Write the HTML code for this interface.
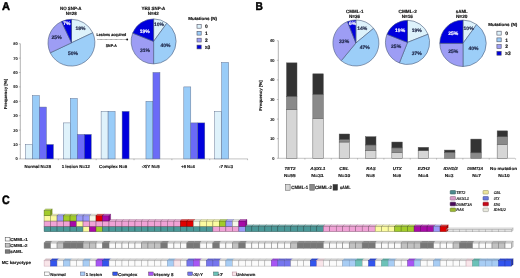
<!DOCTYPE html><html><head><meta charset="utf-8"><style>html,body{margin:0;padding:0;background:#fff;overflow:hidden}svg{display:block;will-change:transform}text{text-rendering:geometricPrecision}</style></head><body><svg width="520" height="278" viewBox="0 0 520 278" style="font-family:&quot;Liberation Sans&quot;, sans-serif">
<rect width="520" height="278" fill="#fff"/>
<text x="2.0" y="10.0" font-size="11.2" font-weight="bold" text-anchor="start" fill="#000" textLength="8.0" lengthAdjust="spacingAndGlyphs" stroke="#000" stroke-width="0.45" >A</text>
<text x="255.6" y="10.3" font-size="11.3" font-weight="bold" text-anchor="start" fill="#000" textLength="7.4" lengthAdjust="spacingAndGlyphs" stroke="#000" stroke-width="0.45" >B</text>
<text x="2.0" y="204.3" font-size="12.2" font-weight="bold" text-anchor="start" fill="#000" textLength="7.7" lengthAdjust="spacingAndGlyphs" stroke="#000" stroke-width="0.45" >C</text>
<text x="59.95" y="10.1" font-size="4.7" font-weight="bold" text-anchor="start" fill="#111" textLength="21.6" lengthAdjust="spacingAndGlyphs" stroke="#111" stroke-width="0.16" >NO SNP-A</text>
<text x="65.75" y="15.4" font-size="4.7" font-weight="bold" text-anchor="start" fill="#111" textLength="11.0" lengthAdjust="spacingAndGlyphs" stroke="#111" stroke-width="0.16" >N=28</text>
<path d="M71.5,42.8 L71.50,19.30 A23.5,23.5 0 0 1 92.76,32.79 Z" fill="#ddf2fb" stroke="#4a5a7a" stroke-width="0.6" stroke-linejoin="round"/>
<path d="M71.5,42.8 L92.76,32.79 A23.5,23.5 0 0 1 50.24,52.81 Z" fill="#9ccef8" stroke="#4a5a7a" stroke-width="0.6" stroke-linejoin="round"/>
<path d="M71.5,42.8 L50.24,52.81 A23.5,23.5 0 0 1 61.49,21.54 Z" fill="#9d9df4" stroke="#4a5a7a" stroke-width="0.6" stroke-linejoin="round"/>
<path d="M71.5,42.8 L61.49,21.54 A23.5,23.5 0 0 1 71.50,19.30 Z" fill="#0000dd" stroke="#4a5a7a" stroke-width="0.6" stroke-linejoin="round"/>
<text x="80.4" y="30" font-size="5.0" font-weight="bold" text-anchor="middle" fill="#1a2244" stroke="#1a2244" stroke-width="0.16" >18%</text>
<text x="66.9" y="24.8" font-size="5.0" font-weight="bold" text-anchor="middle" fill="#fff" stroke="#fff" stroke-width="0.16" >7%</text>
<text x="56.6" y="39.2" font-size="5.0" font-weight="bold" text-anchor="middle" fill="#1a2244" stroke="#1a2244" stroke-width="0.16" >25%</text>
<text x="73" y="54.6" font-size="5.0" font-weight="bold" text-anchor="middle" fill="#1a2244" stroke="#1a2244" stroke-width="0.16" >50%</text>
<text x="141.45" y="10.1" font-size="4.7" font-weight="bold" text-anchor="start" fill="#111" textLength="23.9" lengthAdjust="spacingAndGlyphs" stroke="#111" stroke-width="0.16" >YES SNP-A</text>
<text x="147.75" y="15.4" font-size="4.7" font-weight="bold" text-anchor="start" fill="#111" textLength="10.9" lengthAdjust="spacingAndGlyphs" stroke="#111" stroke-width="0.16" >N=42</text>
<path d="M153.6,41.4 L153.60,18.90 A22.5,22.5 0 0 1 166.83,23.20 Z" fill="#ddf2fb" stroke="#4a5a7a" stroke-width="0.6" stroke-linejoin="round"/>
<path d="M153.6,41.4 L166.83,23.20 A22.5,22.5 0 0 1 153.60,63.90 Z" fill="#9ccef8" stroke="#4a5a7a" stroke-width="0.6" stroke-linejoin="round"/>
<path d="M153.6,41.4 L153.60,63.90 A22.5,22.5 0 0 1 132.68,33.12 Z" fill="#9d9df4" stroke="#4a5a7a" stroke-width="0.6" stroke-linejoin="round"/>
<path d="M153.6,41.4 L132.68,33.12 A22.5,22.5 0 0 1 153.60,18.90 Z" fill="#0000dd" stroke="#4a5a7a" stroke-width="0.6" stroke-linejoin="round"/>
<text x="158.9" y="26.1" font-size="5.0" font-weight="bold" text-anchor="middle" fill="#1a2244" stroke="#1a2244" stroke-width="0.16" >10%</text>
<text x="144.7" y="32.6" font-size="5.0" font-weight="bold" text-anchor="middle" fill="#fff" stroke="#fff" stroke-width="0.16" >19%</text>
<text x="165.5" y="47.2" font-size="5.0" font-weight="bold" text-anchor="middle" fill="#1a2244" stroke="#1a2244" stroke-width="0.16" >40%</text>
<text x="144.9" y="52.1" font-size="5.0" font-weight="bold" text-anchor="middle" fill="#1a2244" stroke="#1a2244" stroke-width="0.16" >31%</text>
<text x="96.45" y="36.0" font-size="4.0" font-weight="bold" text-anchor="start" fill="#111" textLength="29.8" lengthAdjust="spacingAndGlyphs" stroke="#111" stroke-width="0.16" >Lesions acquired</text>
<line x1="97.4" y1="39.5" x2="126.8" y2="39.5" stroke="#444" stroke-width="0.55" stroke-dasharray="0.9,0.35"/>
<circle cx="127.2" cy="39.5" r="0.95" fill="#111"/>
<text x="105.75" y="47.0" font-size="4.0" font-weight="bold" text-anchor="start" fill="#111" textLength="11.0" lengthAdjust="spacingAndGlyphs" stroke="#111" stroke-width="0.16" >SNP-A</text>
<text x="188.15" y="19.6" font-size="4.3" font-weight="bold" text-anchor="start" fill="#111" textLength="29.0" lengthAdjust="spacingAndGlyphs" stroke="#111" stroke-width="0.16" >Mutations (N)</text>
<rect x="197.0" y="24.4" width="4.2" height="3.8" fill="#ddf2fb" stroke="#556" stroke-width="0.6"/>
<text x="204.9" y="28.0" font-size="4.9" font-weight="bold" text-anchor="start" fill="#111" stroke="#111" stroke-width="0.16" >0</text>
<rect x="197.0" y="31.299999999999997" width="4.2" height="3.8" fill="#9ccef8" stroke="#556" stroke-width="0.6"/>
<text x="204.9" y="34.9" font-size="4.9" font-weight="bold" text-anchor="start" fill="#111" stroke="#111" stroke-width="0.16" >1</text>
<rect x="197.0" y="38.2" width="4.2" height="3.8" fill="#9d9df4" stroke="#556" stroke-width="0.6"/>
<text x="204.9" y="41.800000000000004" font-size="4.9" font-weight="bold" text-anchor="start" fill="#111" stroke="#111" stroke-width="0.16" >2</text>
<rect x="197.0" y="45.1" width="4.2" height="3.8" fill="#0000dd" stroke="#556" stroke-width="0.6"/>
<text x="204.9" y="48.7" font-size="4.9" font-weight="bold" text-anchor="start" fill="#111" stroke="#111" stroke-width="0.16" >&#8805;3</text>
<line x1="20.3" y1="43.70000000000002" x2="20.3" y2="158.9" stroke="#666" stroke-width="0.5"/>
<line x1="20.3" y1="158.9" x2="247.8" y2="158.9" stroke="#888" stroke-width="0.5"/>
<line x1="18.9" y1="158.90" x2="20.3" y2="158.90" stroke="#666" stroke-width="0.4"/>
<text x="17.8" y="160.3" font-size="4.0" font-weight="bold" text-anchor="end" fill="#222" stroke="#222" stroke-width="0.08" >0</text>
<line x1="18.9" y1="144.50" x2="20.3" y2="144.50" stroke="#666" stroke-width="0.4"/>
<text x="17.8" y="145.9" font-size="4.0" font-weight="bold" text-anchor="end" fill="#222" stroke="#222" stroke-width="0.08" >10</text>
<line x1="18.9" y1="130.10" x2="20.3" y2="130.10" stroke="#666" stroke-width="0.4"/>
<text x="17.8" y="131.50000000000003" font-size="4.0" font-weight="bold" text-anchor="end" fill="#222" stroke="#222" stroke-width="0.08" >20</text>
<line x1="18.9" y1="115.70" x2="20.3" y2="115.70" stroke="#666" stroke-width="0.4"/>
<text x="17.8" y="117.10000000000002" font-size="4.0" font-weight="bold" text-anchor="end" fill="#222" stroke="#222" stroke-width="0.08" >30</text>
<line x1="18.9" y1="101.30" x2="20.3" y2="101.30" stroke="#666" stroke-width="0.4"/>
<text x="17.8" y="102.70000000000002" font-size="4.0" font-weight="bold" text-anchor="end" fill="#222" stroke="#222" stroke-width="0.08" >40</text>
<line x1="18.9" y1="86.90" x2="20.3" y2="86.90" stroke="#666" stroke-width="0.4"/>
<text x="17.8" y="88.30000000000001" font-size="4.0" font-weight="bold" text-anchor="end" fill="#222" stroke="#222" stroke-width="0.08" >50</text>
<line x1="18.9" y1="72.50" x2="20.3" y2="72.50" stroke="#666" stroke-width="0.4"/>
<text x="17.8" y="73.90000000000002" font-size="4.0" font-weight="bold" text-anchor="end" fill="#222" stroke="#222" stroke-width="0.08" >60</text>
<line x1="18.9" y1="58.10" x2="20.3" y2="58.10" stroke="#666" stroke-width="0.4"/>
<text x="17.8" y="59.50000000000001" font-size="4.0" font-weight="bold" text-anchor="end" fill="#222" stroke="#222" stroke-width="0.08" >70</text>
<line x1="18.9" y1="43.70" x2="20.3" y2="43.70" stroke="#666" stroke-width="0.4"/>
<text x="17.8" y="45.100000000000016" font-size="4.0" font-weight="bold" text-anchor="end" fill="#222" stroke="#222" stroke-width="0.08" >80</text>
<line x1="58.33" y1="158.9" x2="58.33" y2="160.20000000000002" stroke="#777" stroke-width="0.45"/>
<line x1="96.18" y1="158.9" x2="96.18" y2="160.20000000000002" stroke="#777" stroke-width="0.45"/>
<line x1="134.03" y1="158.9" x2="134.03" y2="160.20000000000002" stroke="#777" stroke-width="0.45"/>
<line x1="171.88" y1="158.9" x2="171.88" y2="160.20000000000002" stroke="#777" stroke-width="0.45"/>
<line x1="209.73" y1="158.9" x2="209.73" y2="160.20000000000002" stroke="#777" stroke-width="0.45"/>
<line x1="247.57" y1="158.9" x2="247.57" y2="160.20000000000002" stroke="#777" stroke-width="0.45"/>
<text transform="translate(7.0,94.0) rotate(-90)" font-size="4.2" font-weight="bold" text-anchor="middle" fill="#222" stroke="#222" stroke-width="0.15" textLength="30.5" lengthAdjust="spacingAndGlyphs">Frequency [%]</text>
<rect x="25.40" y="144.50" width="7.0" height="14.40" fill="#dff2fb" stroke="#5a6a8a" stroke-width="0.45"/>
<rect x="32.40" y="95.54" width="7.0" height="63.36" fill="#99ccf8" stroke="#5a6a8a" stroke-width="0.45"/>
<rect x="39.40" y="107.06" width="7.0" height="51.84" fill="#6b6bf7" stroke="#5a6a8a" stroke-width="0.45"/>
<rect x="46.40" y="144.50" width="7.0" height="14.40" fill="#0000dd" stroke="#5a6a8a" stroke-width="0.45"/>
<text x="24.55" y="167.9" font-size="4.3" font-weight="bold" text-anchor="start" fill="#222" textLength="26.5" lengthAdjust="spacingAndGlyphs" stroke="#222" stroke-width="0.16" >Normal N=28</text>
<rect x="63.25" y="122.90" width="7.0" height="36.00" fill="#dff2fb" stroke="#5a6a8a" stroke-width="0.45"/>
<rect x="70.25" y="98.42" width="7.0" height="60.48" fill="#99ccf8" stroke="#5a6a8a" stroke-width="0.45"/>
<rect x="77.25" y="134.42" width="7.0" height="24.48" fill="#6b6bf7" stroke="#5a6a8a" stroke-width="0.45"/>
<rect x="84.25" y="134.42" width="7.0" height="24.48" fill="#0000dd" stroke="#5a6a8a" stroke-width="0.45"/>
<text x="61.65" y="167.9" font-size="4.3" font-weight="bold" text-anchor="start" fill="#222" textLength="28.2" lengthAdjust="spacingAndGlyphs" stroke="#222" stroke-width="0.16" >1 lesion N=12</text>
<rect x="101.10" y="111.38" width="7.0" height="47.52" fill="#dff2fb" stroke="#5a6a8a" stroke-width="0.45"/>
<rect x="108.10" y="111.38" width="7.0" height="47.52" fill="#99ccf8" stroke="#5a6a8a" stroke-width="0.45"/>
<rect x="122.10" y="111.38" width="7.0" height="47.52" fill="#0000dd" stroke="#5a6a8a" stroke-width="0.45"/>
<text x="99.05" y="167.9" font-size="4.3" font-weight="bold" text-anchor="start" fill="#222" textLength="28.2" lengthAdjust="spacingAndGlyphs" stroke="#222" stroke-width="0.16" >Complex N=6</text>
<rect x="145.95" y="101.30" width="7.0" height="57.60" fill="#99ccf8" stroke="#5a6a8a" stroke-width="0.45"/>
<rect x="152.95" y="72.50" width="7.0" height="86.40" fill="#6b6bf7" stroke="#5a6a8a" stroke-width="0.45"/>
<text x="141.65" y="167.9" font-size="4.3" font-weight="bold" text-anchor="start" fill="#222" textLength="18.2" lengthAdjust="spacingAndGlyphs" stroke="#222" stroke-width="0.16" >-X/Y N=5</text>
<rect x="183.80" y="86.90" width="7.0" height="72.00" fill="#99ccf8" stroke="#5a6a8a" stroke-width="0.45"/>
<rect x="190.80" y="122.90" width="7.0" height="36.00" fill="#6b6bf7" stroke="#5a6a8a" stroke-width="0.45"/>
<rect x="197.80" y="122.90" width="7.0" height="36.00" fill="#0000dd" stroke="#5a6a8a" stroke-width="0.45"/>
<text x="181.25" y="167.9" font-size="4.3" font-weight="bold" text-anchor="start" fill="#222" textLength="13.6" lengthAdjust="spacingAndGlyphs" stroke="#222" stroke-width="0.16" >+8 N=4</text>
<rect x="214.65" y="111.38" width="7.0" height="47.52" fill="#dff2fb" stroke="#5a6a8a" stroke-width="0.45"/>
<rect x="221.65" y="62.42" width="7.0" height="96.48" fill="#99ccf8" stroke="#5a6a8a" stroke-width="0.45"/>
<text x="218.95" y="167.9" font-size="4.3" font-weight="bold" text-anchor="start" fill="#222" textLength="14.1" lengthAdjust="spacingAndGlyphs" stroke="#222" stroke-width="0.16" >-7 N=3</text>
<text x="346.05" y="12.6" font-size="4.7" font-weight="bold" text-anchor="start" fill="#111" textLength="17.4" lengthAdjust="spacingAndGlyphs" stroke="#111" stroke-width="0.16" >CMML-1</text>
<text x="349.05" y="17.5" font-size="4.7" font-weight="bold" text-anchor="start" fill="#111" textLength="11.0" lengthAdjust="spacingAndGlyphs" stroke="#111" stroke-width="0.16" >N=36</text>
<path d="M355.9,43.0 L355.90,20.00 A23.0,23.0 0 0 1 373.62,28.34 Z" fill="#ddf2fb" stroke="#4a5a7a" stroke-width="0.6" stroke-linejoin="round"/>
<path d="M355.9,43.0 L373.62,28.34 A23.0,23.0 0 0 1 341.24,60.72 Z" fill="#9ccef8" stroke="#4a5a7a" stroke-width="0.6" stroke-linejoin="round"/>
<path d="M355.9,43.0 L341.24,60.72 A23.0,23.0 0 0 1 347.43,21.62 Z" fill="#9d9df4" stroke="#4a5a7a" stroke-width="0.6" stroke-linejoin="round"/>
<path d="M355.9,43.0 L347.43,21.62 A23.0,23.0 0 0 1 355.90,20.00 Z" fill="#0000dd" stroke="#4a5a7a" stroke-width="0.6" stroke-linejoin="round"/>
<text x="362.2" y="29.6" font-size="5.0" font-weight="bold" text-anchor="middle" fill="#1a2244" stroke="#1a2244" stroke-width="0.16" >14%</text>
<text x="364.8" y="49.4" font-size="5.0" font-weight="bold" text-anchor="middle" fill="#1a2244" stroke="#1a2244" stroke-width="0.16" >47%</text>
<text x="344.1" y="43.4" font-size="5.0" font-weight="bold" text-anchor="middle" fill="#1a2244" stroke="#1a2244" stroke-width="0.16" >33%</text>
<text x="352.7" y="25.2" font-size="5.0" font-weight="bold" text-anchor="middle" fill="#fff" stroke="#fff" stroke-width="0.16" >6%</text>
<text x="398.55" y="12.6" font-size="4.7" font-weight="bold" text-anchor="start" fill="#111" textLength="18.2" lengthAdjust="spacingAndGlyphs" stroke="#111" stroke-width="0.16" >CMML-2</text>
<text x="401.65" y="17.5" font-size="4.7" font-weight="bold" text-anchor="start" fill="#111" textLength="11.3" lengthAdjust="spacingAndGlyphs" stroke="#111" stroke-width="0.16" >N=16</text>
<path d="M407.5,42.4 L407.50,20.30 A22.1,22.1 0 0 1 428.05,34.26 Z" fill="#ddf2fb" stroke="#4a5a7a" stroke-width="0.6" stroke-linejoin="round"/>
<path d="M407.5,42.4 L428.05,34.26 A22.1,22.1 0 0 1 399.36,62.95 Z" fill="#9ccef8" stroke="#4a5a7a" stroke-width="0.6" stroke-linejoin="round"/>
<path d="M407.5,42.4 L399.36,62.95 A22.1,22.1 0 0 1 386.95,34.26 Z" fill="#9d9df4" stroke="#4a5a7a" stroke-width="0.6" stroke-linejoin="round"/>
<path d="M407.5,42.4 L386.95,34.26 A22.1,22.1 0 0 1 407.50,20.30 Z" fill="#0000dd" stroke="#4a5a7a" stroke-width="0.6" stroke-linejoin="round"/>
<text x="416.8" y="32.1" font-size="5.0" font-weight="bold" text-anchor="middle" fill="#1a2244" stroke="#1a2244" stroke-width="0.16" >19%</text>
<text x="416.8" y="54.7" font-size="5.0" font-weight="bold" text-anchor="middle" fill="#1a2244" stroke="#1a2244" stroke-width="0.16" >37%</text>
<text x="396.1" y="47.8" font-size="5.0" font-weight="bold" text-anchor="middle" fill="#1a2244" stroke="#1a2244" stroke-width="0.16" >25%</text>
<text x="400.1" y="32.1" font-size="5.0" font-weight="bold" text-anchor="middle" fill="#fff" stroke="#fff" stroke-width="0.16" >19%</text>
<text x="455.75" y="12.6" font-size="4.7" font-weight="bold" text-anchor="start" fill="#111" textLength="12.0" lengthAdjust="spacingAndGlyphs" stroke="#111" stroke-width="0.16" >sAML</text>
<text x="455.95" y="17.5" font-size="4.7" font-weight="bold" text-anchor="start" fill="#111" textLength="11.5" lengthAdjust="spacingAndGlyphs" stroke="#111" stroke-width="0.16" >N=20</text>
<path d="M463.0,43.3 L463.00,20.10 A23.2,23.2 0 0 1 476.64,24.53 Z" fill="#ddf2fb" stroke="#4a5a7a" stroke-width="0.6" stroke-linejoin="round"/>
<path d="M463.0,43.3 L476.64,24.53 A23.2,23.2 0 0 1 463.00,66.50 Z" fill="#9ccef8" stroke="#4a5a7a" stroke-width="0.6" stroke-linejoin="round"/>
<path d="M463.0,43.3 L463.00,66.50 A23.2,23.2 0 0 1 439.80,43.30 Z" fill="#9d9df4" stroke="#4a5a7a" stroke-width="0.6" stroke-linejoin="round"/>
<path d="M463.0,43.3 L439.80,43.30 A23.2,23.2 0 0 1 463.00,20.10 Z" fill="#0000dd" stroke="#4a5a7a" stroke-width="0.6" stroke-linejoin="round"/>
<text x="468.6" y="30.4" font-size="5.0" font-weight="bold" text-anchor="middle" fill="#1a2244" stroke="#1a2244" stroke-width="0.16" >10%</text>
<text x="473.4" y="50.4" font-size="5.0" font-weight="bold" text-anchor="middle" fill="#1a2244" stroke="#1a2244" stroke-width="0.16" >40%</text>
<text x="453.3" y="52.6" font-size="5.0" font-weight="bold" text-anchor="middle" fill="#1a2244" stroke="#1a2244" stroke-width="0.16" >25%</text>
<text x="453.3" y="34.6" font-size="5.0" font-weight="bold" text-anchor="middle" fill="#fff" stroke="#fff" stroke-width="0.16" >25%</text>
<text x="488.35" y="26.4" font-size="4.3" font-weight="bold" text-anchor="start" fill="#111" textLength="28.8" lengthAdjust="spacingAndGlyphs" stroke="#111" stroke-width="0.16" >Mutations (N)</text>
<rect x="496.9" y="31.2" width="4.3" height="3.9" fill="#ddf2fb" stroke="#556" stroke-width="0.6"/>
<text x="505.3" y="34.8" font-size="4.9" font-weight="bold" text-anchor="start" fill="#111" stroke="#111" stroke-width="0.16" >0</text>
<rect x="496.9" y="37.9" width="4.3" height="3.9" fill="#9ccef8" stroke="#556" stroke-width="0.6"/>
<text x="505.3" y="41.5" font-size="4.9" font-weight="bold" text-anchor="start" fill="#111" stroke="#111" stroke-width="0.16" >1</text>
<rect x="496.9" y="44.6" width="4.3" height="3.9" fill="#9d9df4" stroke="#556" stroke-width="0.6"/>
<text x="505.3" y="48.2" font-size="4.9" font-weight="bold" text-anchor="start" fill="#111" stroke="#111" stroke-width="0.16" >2</text>
<rect x="496.9" y="51.3" width="4.3" height="3.9" fill="#0000dd" stroke="#556" stroke-width="0.6"/>
<text x="505.3" y="54.9" font-size="4.9" font-weight="bold" text-anchor="start" fill="#111" stroke="#111" stroke-width="0.16" >&#8805;3</text>
<line x1="278.3" y1="40.70000000000002" x2="278.3" y2="158.3" stroke="#666" stroke-width="0.5"/>
<line x1="278.3" y1="158.3" x2="515" y2="158.3" stroke="#888" stroke-width="0.5"/>
<line x1="276.9" y1="158.30" x2="278.3" y2="158.30" stroke="#666" stroke-width="0.4"/>
<text x="274.6" y="159.70000000000002" font-size="4.0" font-weight="bold" text-anchor="end" fill="#222" stroke="#222" stroke-width="0.08" >0</text>
<line x1="276.9" y1="138.70" x2="278.3" y2="138.70" stroke="#666" stroke-width="0.4"/>
<text x="274.6" y="140.10000000000002" font-size="4.0" font-weight="bold" text-anchor="end" fill="#222" stroke="#222" stroke-width="0.08" >10</text>
<line x1="276.9" y1="119.10" x2="278.3" y2="119.10" stroke="#666" stroke-width="0.4"/>
<text x="274.6" y="120.50000000000001" font-size="4.0" font-weight="bold" text-anchor="end" fill="#222" stroke="#222" stroke-width="0.08" >20</text>
<line x1="276.9" y1="99.50" x2="278.3" y2="99.50" stroke="#666" stroke-width="0.4"/>
<text x="274.6" y="100.90000000000002" font-size="4.0" font-weight="bold" text-anchor="end" fill="#222" stroke="#222" stroke-width="0.08" >30</text>
<line x1="276.9" y1="79.90" x2="278.3" y2="79.90" stroke="#666" stroke-width="0.4"/>
<text x="274.6" y="81.30000000000001" font-size="4.0" font-weight="bold" text-anchor="end" fill="#222" stroke="#222" stroke-width="0.08" >40</text>
<line x1="276.9" y1="60.30" x2="278.3" y2="60.30" stroke="#666" stroke-width="0.4"/>
<text x="274.6" y="61.70000000000001" font-size="4.0" font-weight="bold" text-anchor="end" fill="#222" stroke="#222" stroke-width="0.08" >50</text>
<line x1="276.9" y1="40.70" x2="278.3" y2="40.70" stroke="#666" stroke-width="0.4"/>
<text x="274.6" y="42.100000000000016" font-size="4.0" font-weight="bold" text-anchor="end" fill="#222" stroke="#222" stroke-width="0.08" >60</text>
<line x1="304.92" y1="158.3" x2="304.92" y2="159.60000000000002" stroke="#777" stroke-width="0.45"/>
<line x1="331.25" y1="158.3" x2="331.25" y2="159.60000000000002" stroke="#777" stroke-width="0.45"/>
<line x1="357.58" y1="158.3" x2="357.58" y2="159.60000000000002" stroke="#777" stroke-width="0.45"/>
<line x1="383.91" y1="158.3" x2="383.91" y2="159.60000000000002" stroke="#777" stroke-width="0.45"/>
<line x1="410.24" y1="158.3" x2="410.24" y2="159.60000000000002" stroke="#777" stroke-width="0.45"/>
<line x1="436.56" y1="158.3" x2="436.56" y2="159.60000000000002" stroke="#777" stroke-width="0.45"/>
<line x1="462.89" y1="158.3" x2="462.89" y2="159.60000000000002" stroke="#777" stroke-width="0.45"/>
<line x1="489.23" y1="158.3" x2="489.23" y2="159.60000000000002" stroke="#777" stroke-width="0.45"/>
<line x1="515.56" y1="158.3" x2="515.56" y2="159.60000000000002" stroke="#777" stroke-width="0.45"/>
<text transform="translate(262.0,95.5) rotate(-90)" font-size="4.2" font-weight="bold" text-anchor="middle" fill="#222" stroke="#222" stroke-width="0.15" textLength="30.5" lengthAdjust="spacingAndGlyphs">Frequency [%]</text>
<rect x="286.50" y="109.69" width="10.5" height="48.61" fill="#d6d6d6" stroke="#555" stroke-width="0.45"/>
<rect x="286.50" y="96.36" width="10.5" height="13.33" fill="#8a8a8a" stroke="#555" stroke-width="0.45"/>
<rect x="286.50" y="62.85" width="10.5" height="33.52" fill="#333333" stroke="#555" stroke-width="0.45"/>
<text x="284.55" y="170.3" font-size="4.3" font-weight="bold" text-anchor="start" fill="#222" font-style="italic" textLength="11.1" lengthAdjust="spacingAndGlyphs" stroke="#222" stroke-width="0.16" >TET2</text>
<text x="284.05" y="176.5" font-size="4.3" font-weight="bold" text-anchor="start" fill="#222" textLength="11.6" lengthAdjust="spacingAndGlyphs" stroke="#222" stroke-width="0.16" >N=55</text>
<rect x="312.83" y="118.32" width="10.5" height="39.98" fill="#d6d6d6" stroke="#555" stroke-width="0.45"/>
<rect x="312.83" y="94.40" width="10.5" height="23.91" fill="#8a8a8a" stroke="#555" stroke-width="0.45"/>
<rect x="312.83" y="73.82" width="10.5" height="20.58" fill="#333333" stroke="#555" stroke-width="0.45"/>
<text x="310.35" y="170.3" font-size="4.3" font-weight="bold" text-anchor="start" fill="#222" font-style="italic" textLength="15.1" lengthAdjust="spacingAndGlyphs" stroke="#222" stroke-width="0.16" >ASXL1</text>
<text x="311.25" y="176.5" font-size="4.3" font-weight="bold" text-anchor="start" fill="#222" textLength="12.5" lengthAdjust="spacingAndGlyphs" stroke="#222" stroke-width="0.16" >N=31</text>
<rect x="339.16" y="142.03" width="10.5" height="16.27" fill="#d6d6d6" stroke="#555" stroke-width="0.45"/>
<rect x="339.16" y="139.48" width="10.5" height="2.55" fill="#8a8a8a" stroke="#555" stroke-width="0.45"/>
<rect x="339.16" y="134.00" width="10.5" height="5.49" fill="#333333" stroke="#555" stroke-width="0.45"/>
<text x="339.25" y="170.3" font-size="4.3" font-weight="bold" text-anchor="start" fill="#222" font-style="italic" textLength="9.5" lengthAdjust="spacingAndGlyphs" stroke="#222" stroke-width="0.16" >CBL</text>
<text x="338.25" y="176.5" font-size="4.3" font-weight="bold" text-anchor="start" fill="#222" textLength="12.0" lengthAdjust="spacingAndGlyphs" stroke="#222" stroke-width="0.16" >N=10</text>
<rect x="365.49" y="150.26" width="10.5" height="8.04" fill="#d6d6d6" stroke="#555" stroke-width="0.45"/>
<rect x="365.49" y="144.97" width="10.5" height="5.29" fill="#8a8a8a" stroke="#555" stroke-width="0.45"/>
<rect x="365.49" y="136.74" width="10.5" height="8.23" fill="#333333" stroke="#555" stroke-width="0.45"/>
<text x="366.35" y="170.3" font-size="4.3" font-weight="bold" text-anchor="start" fill="#222" font-style="italic" textLength="9.3" lengthAdjust="spacingAndGlyphs" stroke="#222" stroke-width="0.16" >RAS</text>
<text x="366.35" y="176.5" font-size="4.3" font-weight="bold" text-anchor="start" fill="#222" textLength="8.5" lengthAdjust="spacingAndGlyphs" stroke="#222" stroke-width="0.16" >N=8</text>
<rect x="391.82" y="152.62" width="10.5" height="5.68" fill="#d6d6d6" stroke="#555" stroke-width="0.45"/>
<rect x="391.82" y="147.91" width="10.5" height="4.70" fill="#8a8a8a" stroke="#555" stroke-width="0.45"/>
<rect x="391.82" y="142.03" width="10.5" height="5.88" fill="#333333" stroke="#555" stroke-width="0.45"/>
<text x="392.75" y="170.3" font-size="4.3" font-weight="bold" text-anchor="start" fill="#222" font-style="italic" textLength="9.0" lengthAdjust="spacingAndGlyphs" stroke="#222" stroke-width="0.16" >UTX</text>
<text x="392.75" y="176.5" font-size="4.3" font-weight="bold" text-anchor="start" fill="#222" textLength="8.3" lengthAdjust="spacingAndGlyphs" stroke="#222" stroke-width="0.16" >N=6</text>
<rect x="418.15" y="150.66" width="10.5" height="7.64" fill="#d6d6d6" stroke="#555" stroke-width="0.45"/>
<rect x="418.15" y="147.32" width="10.5" height="3.33" fill="#333333" stroke="#555" stroke-width="0.45"/>
<text x="417.75" y="170.3" font-size="4.3" font-weight="bold" text-anchor="start" fill="#222" font-style="italic" textLength="12.0" lengthAdjust="spacingAndGlyphs" stroke="#222" stroke-width="0.16" >EZH2</text>
<text x="418.25" y="176.5" font-size="4.3" font-weight="bold" text-anchor="start" fill="#222" textLength="10.0" lengthAdjust="spacingAndGlyphs" stroke="#222" stroke-width="0.16" >N=4</text>
<rect x="444.48" y="152.22" width="10.5" height="6.08" fill="#8a8a8a" stroke="#555" stroke-width="0.45"/>
<rect x="444.48" y="150.07" width="10.5" height="2.16" fill="#333333" stroke="#555" stroke-width="0.45"/>
<text x="443.55" y="170.3" font-size="4.3" font-weight="bold" text-anchor="start" fill="#222" font-style="italic" textLength="14.3" lengthAdjust="spacingAndGlyphs" stroke="#222" stroke-width="0.16" >IDH1/2</text>
<text x="444.65" y="176.5" font-size="4.3" font-weight="bold" text-anchor="start" fill="#222" textLength="8.9" lengthAdjust="spacingAndGlyphs" stroke="#222" stroke-width="0.16" >N=3</text>
<rect x="470.81" y="152.81" width="10.5" height="5.49" fill="#8a8a8a" stroke="#555" stroke-width="0.45"/>
<rect x="470.81" y="139.09" width="10.5" height="13.72" fill="#333333" stroke="#555" stroke-width="0.45"/>
<text x="467.25" y="170.3" font-size="4.3" font-weight="bold" text-anchor="start" fill="#222" font-style="italic" textLength="16.0" lengthAdjust="spacingAndGlyphs" stroke="#222" stroke-width="0.16" >DNMT3A</text>
<text x="472.15" y="176.5" font-size="4.3" font-weight="bold" text-anchor="start" fill="#222" textLength="8.9" lengthAdjust="spacingAndGlyphs" stroke="#222" stroke-width="0.16" >N=7</text>
<rect x="497.14" y="144.58" width="10.5" height="13.72" fill="#d6d6d6" stroke="#555" stroke-width="0.45"/>
<rect x="497.14" y="136.74" width="10.5" height="7.84" fill="#8a8a8a" stroke="#555" stroke-width="0.45"/>
<rect x="497.14" y="130.86" width="10.5" height="5.88" fill="#333333" stroke="#555" stroke-width="0.45"/>
<text x="490.05" y="170.3" font-size="4.3" font-weight="bold" text-anchor="start" fill="#222" textLength="27.0" lengthAdjust="spacingAndGlyphs" stroke="#222" stroke-width="0.16" >No mutation</text>
<text x="498.15" y="176.5" font-size="4.3" font-weight="bold" text-anchor="start" fill="#222" textLength="11.5" lengthAdjust="spacingAndGlyphs" stroke="#222" stroke-width="0.16" >N=10</text>
<rect x="285.5" y="184.4" width="4.6" height="5.8" fill="#d6d6d6" stroke="#444" stroke-width="0.45"/>
<text x="291.35" y="189.4" font-size="4.6" font-weight="bold" text-anchor="start" fill="#222" textLength="16.8" lengthAdjust="spacingAndGlyphs" stroke="#222" stroke-width="0.16" >CMML-1</text>
<rect x="309.8" y="184.4" width="4.6" height="5.8" fill="#8a8a8a" stroke="#444" stroke-width="0.45"/>
<text x="314.95" y="189.4" font-size="4.6" font-weight="bold" text-anchor="start" fill="#222" textLength="17.0" lengthAdjust="spacingAndGlyphs" stroke="#222" stroke-width="0.16" >CMML-2</text>
<rect x="333" y="184.4" width="4.6" height="5.8" fill="#333333" stroke="#444" stroke-width="0.45"/>
<text x="339.95" y="189.4" font-size="4.6" font-weight="bold" text-anchor="start" fill="#222" textLength="10.7" lengthAdjust="spacingAndGlyphs" stroke="#222" stroke-width="0.16" >sAML</text>
<rect x="44.10" y="226.30" width="6.49" height="5.3" fill="#4a9898" stroke="#285353" stroke-width="0.5"/>
<rect x="44.10" y="221.00" width="6.49" height="5.3" fill="#f0a2d6" stroke="#845975" stroke-width="0.5"/>
<rect x="44.10" y="215.70" width="6.49" height="5.3" fill="#fbfba0" stroke="#8a8a58" stroke-width="0.5"/>
<rect x="44.10" y="210.40" width="6.49" height="5.3" fill="#a2cc2a" stroke="#597017" stroke-width="0.5"/>
<path d="M44.10,210.40 L45.70,209.00 L52.19,209.00 L50.59,210.40 Z" fill="#c2dd74" stroke="#617a19" stroke-width="0.4"/>
<rect x="50.59" y="226.30" width="6.49" height="5.3" fill="#4a9898" stroke="#285353" stroke-width="0.5"/>
<rect x="50.59" y="221.00" width="6.49" height="5.3" fill="#f0a2d6" stroke="#845975" stroke-width="0.5"/>
<rect x="50.59" y="215.70" width="6.49" height="5.3" fill="#fbfba0" stroke="#8a8a58" stroke-width="0.5"/>
<path d="M50.59,215.70 L52.19,214.30 L58.68,214.30 L57.08,215.70 Z" fill="#fcfcc1" stroke="#969660" stroke-width="0.4"/>
<rect x="57.08" y="226.30" width="6.49" height="5.3" fill="#4a9898" stroke="#285353" stroke-width="0.5"/>
<rect x="57.08" y="221.00" width="6.49" height="5.3" fill="#f0a2d6" stroke="#845975" stroke-width="0.5"/>
<rect x="57.08" y="215.70" width="6.49" height="5.3" fill="#9a9af8" stroke="#545488" stroke-width="0.5"/>
<path d="M57.08,215.70 L58.68,214.30 L65.18,214.30 L63.58,215.70 Z" fill="#bdbdfa" stroke="#5c5c94" stroke-width="0.4"/>
<rect x="63.58" y="226.30" width="6.49" height="5.3" fill="#4a9898" stroke="#285353" stroke-width="0.5"/>
<rect x="63.58" y="221.00" width="6.49" height="5.3" fill="#f0a2d6" stroke="#845975" stroke-width="0.5"/>
<rect x="63.58" y="215.70" width="6.49" height="5.3" fill="#a2cc2a" stroke="#597017" stroke-width="0.5"/>
<path d="M63.58,215.70 L65.18,214.30 L71.67,214.30 L70.07,215.70 Z" fill="#c2dd74" stroke="#617a19" stroke-width="0.4"/>
<rect x="70.07" y="226.30" width="6.49" height="5.3" fill="#4a9898" stroke="#285353" stroke-width="0.5"/>
<rect x="70.07" y="221.00" width="6.49" height="5.3" fill="#a80aa8" stroke="#5c055c" stroke-width="0.5"/>
<rect x="70.07" y="215.70" width="6.49" height="5.3" fill="#a2cc2a" stroke="#597017" stroke-width="0.5"/>
<path d="M70.07,215.70 L71.67,214.30 L78.16,214.30 L76.56,215.70 Z" fill="#c2dd74" stroke="#617a19" stroke-width="0.4"/>
<rect x="76.56" y="226.30" width="6.49" height="5.3" fill="#4a9898" stroke="#285353" stroke-width="0.5"/>
<rect x="76.56" y="221.00" width="6.49" height="5.3" fill="#fbfba0" stroke="#8a8a58" stroke-width="0.5"/>
<rect x="76.56" y="215.70" width="6.49" height="5.3" fill="#9a9af8" stroke="#545488" stroke-width="0.5"/>
<path d="M76.56,215.70 L78.16,214.30 L84.65,214.30 L83.05,215.70 Z" fill="#bdbdfa" stroke="#5c5c94" stroke-width="0.4"/>
<rect x="83.05" y="226.30" width="6.49" height="5.3" fill="#fbfba0" stroke="#8a8a58" stroke-width="0.5"/>
<rect x="83.05" y="221.00" width="6.49" height="5.3" fill="#f0a2d6" stroke="#845975" stroke-width="0.5"/>
<rect x="83.05" y="215.70" width="6.49" height="5.3" fill="#9a9af8" stroke="#545488" stroke-width="0.5"/>
<path d="M83.05,215.70 L84.65,214.30 L91.14,214.30 L89.54,215.70 Z" fill="#bdbdfa" stroke="#5c5c94" stroke-width="0.4"/>
<rect x="89.54" y="226.30" width="6.49" height="5.3" fill="#a80aa8" stroke="#5c055c" stroke-width="0.5"/>
<rect x="89.54" y="221.00" width="6.49" height="5.3" fill="#f0a2d6" stroke="#845975" stroke-width="0.5"/>
<rect x="89.54" y="215.70" width="6.49" height="5.3" fill="#f4f8e8" stroke="#86887f" stroke-width="0.5"/>
<path d="M89.54,215.70 L91.14,214.30 L97.64,214.30 L96.04,215.70 Z" fill="#f7faf0" stroke="#92948b" stroke-width="0.4"/>
<rect x="96.04" y="226.30" width="6.49" height="5.3" fill="#a2cc2a" stroke="#597017" stroke-width="0.5"/>
<rect x="96.04" y="221.00" width="6.49" height="5.3" fill="#f0a2d6" stroke="#845975" stroke-width="0.5"/>
<rect x="96.04" y="215.70" width="6.49" height="5.3" fill="#e00000" stroke="#7b0000" stroke-width="0.5"/>
<path d="M96.04,215.70 L97.64,214.30 L104.13,214.30 L102.53,215.70 Z" fill="#ea5959" stroke="#860000" stroke-width="0.4"/>
<rect x="102.53" y="226.30" width="6.49" height="5.3" fill="#4a9898" stroke="#285353" stroke-width="0.5"/>
<rect x="102.53" y="221.00" width="6.49" height="5.3" fill="#f0a2d6" stroke="#845975" stroke-width="0.5"/>
<rect x="102.53" y="215.70" width="6.49" height="5.3" fill="#a80aa8" stroke="#5c055c" stroke-width="0.5"/>
<path d="M102.53,215.70 L104.13,214.30 L110.62,214.30 L109.02,215.70 Z" fill="#c65fc6" stroke="#640664" stroke-width="0.4"/>
<rect x="109.02" y="226.30" width="6.49" height="5.3" fill="#4a9898" stroke="#285353" stroke-width="0.5"/>
<rect x="109.02" y="221.00" width="6.49" height="5.3" fill="#f0a2d6" stroke="#845975" stroke-width="0.5"/>
<path d="M109.02,221.00 L110.62,219.60 L117.11,219.60 L115.51,221.00 Z" fill="#f5c2e4" stroke="#906180" stroke-width="0.4"/>
<rect x="115.51" y="226.30" width="6.49" height="5.3" fill="#4a9898" stroke="#285353" stroke-width="0.5"/>
<rect x="115.51" y="221.00" width="6.49" height="5.3" fill="#f0a2d6" stroke="#845975" stroke-width="0.5"/>
<path d="M115.51,221.00 L117.11,219.60 L123.60,219.60 L122.00,221.00 Z" fill="#f5c2e4" stroke="#906180" stroke-width="0.4"/>
<rect x="122.00" y="226.30" width="6.49" height="5.3" fill="#4a9898" stroke="#285353" stroke-width="0.5"/>
<rect x="122.00" y="221.00" width="6.49" height="5.3" fill="#f0a2d6" stroke="#845975" stroke-width="0.5"/>
<path d="M122.00,221.00 L123.60,219.60 L130.10,219.60 L128.50,221.00 Z" fill="#f5c2e4" stroke="#906180" stroke-width="0.4"/>
<rect x="128.50" y="226.30" width="6.49" height="5.3" fill="#4a9898" stroke="#285353" stroke-width="0.5"/>
<rect x="128.50" y="221.00" width="6.49" height="5.3" fill="#f0a2d6" stroke="#845975" stroke-width="0.5"/>
<path d="M128.50,221.00 L130.10,219.60 L136.59,219.60 L134.99,221.00 Z" fill="#f5c2e4" stroke="#906180" stroke-width="0.4"/>
<rect x="134.99" y="226.30" width="6.49" height="5.3" fill="#4a9898" stroke="#285353" stroke-width="0.5"/>
<rect x="134.99" y="221.00" width="6.49" height="5.3" fill="#f0a2d6" stroke="#845975" stroke-width="0.5"/>
<path d="M134.99,221.00 L136.59,219.60 L143.08,219.60 L141.48,221.00 Z" fill="#f5c2e4" stroke="#906180" stroke-width="0.4"/>
<rect x="141.48" y="226.30" width="6.49" height="5.3" fill="#4a9898" stroke="#285353" stroke-width="0.5"/>
<rect x="141.48" y="221.00" width="6.49" height="5.3" fill="#f0a2d6" stroke="#845975" stroke-width="0.5"/>
<path d="M141.48,221.00 L143.08,219.60 L149.57,219.60 L147.97,221.00 Z" fill="#f5c2e4" stroke="#906180" stroke-width="0.4"/>
<rect x="147.97" y="226.30" width="6.49" height="5.3" fill="#4a9898" stroke="#285353" stroke-width="0.5"/>
<rect x="147.97" y="221.00" width="6.49" height="5.3" fill="#f0a2d6" stroke="#845975" stroke-width="0.5"/>
<path d="M147.97,221.00 L149.57,219.60 L156.06,219.60 L154.46,221.00 Z" fill="#f5c2e4" stroke="#906180" stroke-width="0.4"/>
<rect x="154.46" y="226.30" width="6.49" height="5.3" fill="#4a9898" stroke="#285353" stroke-width="0.5"/>
<rect x="154.46" y="221.00" width="6.49" height="5.3" fill="#f0a2d6" stroke="#845975" stroke-width="0.5"/>
<path d="M154.46,221.00 L156.06,219.60 L162.56,219.60 L160.96,221.00 Z" fill="#f5c2e4" stroke="#906180" stroke-width="0.4"/>
<rect x="160.96" y="226.30" width="6.49" height="5.3" fill="#4a9898" stroke="#285353" stroke-width="0.5"/>
<rect x="160.96" y="221.00" width="6.49" height="5.3" fill="#f0a2d6" stroke="#845975" stroke-width="0.5"/>
<path d="M160.96,221.00 L162.56,219.60 L169.05,219.60 L167.45,221.00 Z" fill="#f5c2e4" stroke="#906180" stroke-width="0.4"/>
<rect x="167.45" y="226.30" width="6.49" height="5.3" fill="#4a9898" stroke="#285353" stroke-width="0.5"/>
<rect x="167.45" y="221.00" width="6.49" height="5.3" fill="#f0a2d6" stroke="#845975" stroke-width="0.5"/>
<path d="M167.45,221.00 L169.05,219.60 L175.54,219.60 L173.94,221.00 Z" fill="#f5c2e4" stroke="#906180" stroke-width="0.4"/>
<rect x="173.94" y="226.30" width="6.49" height="5.3" fill="#4a9898" stroke="#285353" stroke-width="0.5"/>
<rect x="173.94" y="221.00" width="6.49" height="5.3" fill="#f0a2d6" stroke="#845975" stroke-width="0.5"/>
<path d="M173.94,221.00 L175.54,219.60 L182.03,219.60 L180.43,221.00 Z" fill="#f5c2e4" stroke="#906180" stroke-width="0.4"/>
<rect x="180.43" y="226.30" width="6.49" height="5.3" fill="#4a9898" stroke="#285353" stroke-width="0.5"/>
<rect x="180.43" y="221.00" width="6.49" height="5.3" fill="#e00000" stroke="#7b0000" stroke-width="0.5"/>
<path d="M180.43,221.00 L182.03,219.60 L188.52,219.60 L186.92,221.00 Z" fill="#ea5959" stroke="#860000" stroke-width="0.4"/>
<rect x="186.92" y="226.30" width="6.49" height="5.3" fill="#4a9898" stroke="#285353" stroke-width="0.5"/>
<rect x="186.92" y="221.00" width="6.49" height="5.3" fill="#e00000" stroke="#7b0000" stroke-width="0.5"/>
<path d="M186.92,221.00 L188.52,219.60 L195.02,219.60 L193.42,221.00 Z" fill="#ea5959" stroke="#860000" stroke-width="0.4"/>
<rect x="193.42" y="226.30" width="6.49" height="5.3" fill="#4a9898" stroke="#285353" stroke-width="0.5"/>
<rect x="193.42" y="221.00" width="6.49" height="5.3" fill="#f4f8e8" stroke="#86887f" stroke-width="0.5"/>
<path d="M193.42,221.00 L195.02,219.60 L201.51,219.60 L199.91,221.00 Z" fill="#f7faf0" stroke="#92948b" stroke-width="0.4"/>
<rect x="199.91" y="226.30" width="6.49" height="5.3" fill="#4a9898" stroke="#285353" stroke-width="0.5"/>
<rect x="199.91" y="221.00" width="6.49" height="5.3" fill="#fbfba0" stroke="#8a8a58" stroke-width="0.5"/>
<path d="M199.91,221.00 L201.51,219.60 L208.00,219.60 L206.40,221.00 Z" fill="#fcfcc1" stroke="#969660" stroke-width="0.4"/>
<rect x="206.40" y="226.30" width="6.49" height="5.3" fill="#4a9898" stroke="#285353" stroke-width="0.5"/>
<rect x="206.40" y="221.00" width="6.49" height="5.3" fill="#fbfba0" stroke="#8a8a58" stroke-width="0.5"/>
<path d="M206.40,221.00 L208.00,219.60 L214.49,219.60 L212.89,221.00 Z" fill="#fcfcc1" stroke="#969660" stroke-width="0.4"/>
<rect x="212.89" y="226.30" width="6.49" height="5.3" fill="#f0a2d6" stroke="#845975" stroke-width="0.5"/>
<rect x="212.89" y="221.00" width="6.49" height="5.3" fill="#fbfba0" stroke="#8a8a58" stroke-width="0.5"/>
<path d="M212.89,221.00 L214.49,219.60 L220.98,219.60 L219.38,221.00 Z" fill="#fcfcc1" stroke="#969660" stroke-width="0.4"/>
<rect x="219.38" y="226.30" width="6.49" height="5.3" fill="#f0a2d6" stroke="#845975" stroke-width="0.5"/>
<rect x="219.38" y="221.00" width="6.49" height="5.3" fill="#a2cc2a" stroke="#597017" stroke-width="0.5"/>
<path d="M219.38,221.00 L220.98,219.60 L227.48,219.60 L225.88,221.00 Z" fill="#c2dd74" stroke="#617a19" stroke-width="0.4"/>
<rect x="225.88" y="226.30" width="6.49" height="5.3" fill="#f0a2d6" stroke="#845975" stroke-width="0.5"/>
<rect x="225.88" y="221.00" width="6.49" height="5.3" fill="#9a9af8" stroke="#545488" stroke-width="0.5"/>
<path d="M225.88,221.00 L227.48,219.60 L233.97,219.60 L232.37,221.00 Z" fill="#bdbdfa" stroke="#5c5c94" stroke-width="0.4"/>
<rect x="232.37" y="226.30" width="6.49" height="5.3" fill="#f0a2d6" stroke="#845975" stroke-width="0.5"/>
<rect x="232.37" y="221.00" width="6.49" height="5.3" fill="#f4f8e8" stroke="#86887f" stroke-width="0.5"/>
<path d="M232.37,221.00 L233.97,219.60 L240.46,219.60 L238.86,221.00 Z" fill="#f7faf0" stroke="#92948b" stroke-width="0.4"/>
<rect x="238.86" y="226.30" width="6.49" height="5.3" fill="#9a9af8" stroke="#545488" stroke-width="0.5"/>
<rect x="238.86" y="221.00" width="6.49" height="5.3" fill="#a80aa8" stroke="#5c055c" stroke-width="0.5"/>
<path d="M238.86,221.00 L240.46,219.60 L246.95,219.60 L245.35,221.00 Z" fill="#c65fc6" stroke="#640664" stroke-width="0.4"/>
<rect x="245.35" y="226.30" width="6.49" height="5.3" fill="#4a9898" stroke="#285353" stroke-width="0.5"/>
<path d="M245.35,226.30 L246.95,224.90 L253.44,224.90 L251.84,226.30 Z" fill="#89bcbc" stroke="#2c5b5b" stroke-width="0.4"/>
<rect x="251.84" y="226.30" width="6.49" height="5.3" fill="#4a9898" stroke="#285353" stroke-width="0.5"/>
<path d="M251.84,226.30 L253.44,224.90 L259.94,224.90 L258.34,226.30 Z" fill="#89bcbc" stroke="#2c5b5b" stroke-width="0.4"/>
<rect x="258.34" y="226.30" width="6.49" height="5.3" fill="#4a9898" stroke="#285353" stroke-width="0.5"/>
<path d="M258.34,226.30 L259.94,224.90 L266.43,224.90 L264.83,226.30 Z" fill="#89bcbc" stroke="#2c5b5b" stroke-width="0.4"/>
<rect x="264.83" y="226.30" width="6.49" height="5.3" fill="#4a9898" stroke="#285353" stroke-width="0.5"/>
<path d="M264.83,226.30 L266.43,224.90 L272.92,224.90 L271.32,226.30 Z" fill="#89bcbc" stroke="#2c5b5b" stroke-width="0.4"/>
<rect x="271.32" y="226.30" width="6.49" height="5.3" fill="#4a9898" stroke="#285353" stroke-width="0.5"/>
<path d="M271.32,226.30 L272.92,224.90 L279.41,224.90 L277.81,226.30 Z" fill="#89bcbc" stroke="#2c5b5b" stroke-width="0.4"/>
<rect x="277.81" y="226.30" width="6.49" height="5.3" fill="#4a9898" stroke="#285353" stroke-width="0.5"/>
<path d="M277.81,226.30 L279.41,224.90 L285.90,224.90 L284.30,226.30 Z" fill="#89bcbc" stroke="#2c5b5b" stroke-width="0.4"/>
<rect x="284.30" y="226.30" width="6.49" height="5.3" fill="#4a9898" stroke="#285353" stroke-width="0.5"/>
<path d="M284.30,226.30 L285.90,224.90 L292.40,224.90 L290.80,226.30 Z" fill="#89bcbc" stroke="#2c5b5b" stroke-width="0.4"/>
<rect x="290.80" y="226.30" width="6.49" height="5.3" fill="#4a9898" stroke="#285353" stroke-width="0.5"/>
<path d="M290.80,226.30 L292.40,224.90 L298.89,224.90 L297.29,226.30 Z" fill="#89bcbc" stroke="#2c5b5b" stroke-width="0.4"/>
<rect x="297.29" y="226.30" width="6.49" height="5.3" fill="#4a9898" stroke="#285353" stroke-width="0.5"/>
<path d="M297.29,226.30 L298.89,224.90 L305.38,224.90 L303.78,226.30 Z" fill="#89bcbc" stroke="#2c5b5b" stroke-width="0.4"/>
<rect x="303.78" y="226.30" width="6.49" height="5.3" fill="#4a9898" stroke="#285353" stroke-width="0.5"/>
<path d="M303.78,226.30 L305.38,224.90 L311.87,224.90 L310.27,226.30 Z" fill="#89bcbc" stroke="#2c5b5b" stroke-width="0.4"/>
<rect x="310.27" y="226.30" width="6.49" height="5.3" fill="#4a9898" stroke="#285353" stroke-width="0.5"/>
<path d="M310.27,226.30 L311.87,224.90 L318.36,224.90 L316.76,226.30 Z" fill="#89bcbc" stroke="#2c5b5b" stroke-width="0.4"/>
<rect x="316.76" y="226.30" width="6.49" height="5.3" fill="#4a9898" stroke="#285353" stroke-width="0.5"/>
<path d="M316.76,226.30 L318.36,224.90 L324.86,224.90 L323.26,226.30 Z" fill="#89bcbc" stroke="#2c5b5b" stroke-width="0.4"/>
<rect x="323.26" y="226.30" width="6.49" height="5.3" fill="#f0a2d6" stroke="#845975" stroke-width="0.5"/>
<path d="M323.26,226.30 L324.86,224.90 L331.35,224.90 L329.75,226.30 Z" fill="#f5c2e4" stroke="#906180" stroke-width="0.4"/>
<rect x="329.75" y="226.30" width="6.49" height="5.3" fill="#f0a2d6" stroke="#845975" stroke-width="0.5"/>
<path d="M329.75,226.30 L331.35,224.90 L337.84,224.90 L336.24,226.30 Z" fill="#f5c2e4" stroke="#906180" stroke-width="0.4"/>
<rect x="336.24" y="226.30" width="6.49" height="5.3" fill="#f0a2d6" stroke="#845975" stroke-width="0.5"/>
<path d="M336.24,226.30 L337.84,224.90 L344.33,224.90 L342.73,226.30 Z" fill="#f5c2e4" stroke="#906180" stroke-width="0.4"/>
<rect x="342.73" y="226.30" width="6.49" height="5.3" fill="#f0a2d6" stroke="#845975" stroke-width="0.5"/>
<path d="M342.73,226.30 L344.33,224.90 L350.82,224.90 L349.22,226.30 Z" fill="#f5c2e4" stroke="#906180" stroke-width="0.4"/>
<rect x="349.22" y="226.30" width="6.49" height="5.3" fill="#f0a2d6" stroke="#845975" stroke-width="0.5"/>
<path d="M349.22,226.30 L350.82,224.90 L357.32,224.90 L355.72,226.30 Z" fill="#f5c2e4" stroke="#906180" stroke-width="0.4"/>
<rect x="355.72" y="226.30" width="6.49" height="5.3" fill="#f0a2d6" stroke="#845975" stroke-width="0.5"/>
<path d="M355.72,226.30 L357.32,224.90 L363.81,224.90 L362.21,226.30 Z" fill="#f5c2e4" stroke="#906180" stroke-width="0.4"/>
<rect x="362.21" y="226.30" width="6.49" height="5.3" fill="#f0a2d6" stroke="#845975" stroke-width="0.5"/>
<path d="M362.21,226.30 L363.81,224.90 L370.30,224.90 L368.70,226.30 Z" fill="#f5c2e4" stroke="#906180" stroke-width="0.4"/>
<rect x="368.70" y="226.30" width="6.49" height="5.3" fill="#f0a2d6" stroke="#845975" stroke-width="0.5"/>
<path d="M368.70,226.30 L370.30,224.90 L376.79,224.90 L375.19,226.30 Z" fill="#f5c2e4" stroke="#906180" stroke-width="0.4"/>
<rect x="375.19" y="226.30" width="6.49" height="5.3" fill="#fbfba0" stroke="#8a8a58" stroke-width="0.5"/>
<path d="M375.19,226.30 L376.79,224.90 L383.28,224.90 L381.68,226.30 Z" fill="#fcfcc1" stroke="#969660" stroke-width="0.4"/>
<rect x="381.68" y="226.30" width="6.49" height="5.3" fill="#fbfba0" stroke="#8a8a58" stroke-width="0.5"/>
<path d="M381.68,226.30 L383.28,224.90 L389.78,224.90 L388.18,226.30 Z" fill="#fcfcc1" stroke="#969660" stroke-width="0.4"/>
<rect x="388.18" y="226.30" width="6.49" height="5.3" fill="#fbfba0" stroke="#8a8a58" stroke-width="0.5"/>
<path d="M388.18,226.30 L389.78,224.90 L396.27,224.90 L394.67,226.30 Z" fill="#fcfcc1" stroke="#969660" stroke-width="0.4"/>
<rect x="394.67" y="226.30" width="6.49" height="5.3" fill="#a2cc2a" stroke="#597017" stroke-width="0.5"/>
<path d="M394.67,226.30 L396.27,224.90 L402.76,224.90 L401.16,226.30 Z" fill="#c2dd74" stroke="#617a19" stroke-width="0.4"/>
<rect x="401.16" y="226.30" width="6.49" height="5.3" fill="#a2cc2a" stroke="#597017" stroke-width="0.5"/>
<path d="M401.16,226.30 L402.76,224.90 L409.25,224.90 L407.65,226.30 Z" fill="#c2dd74" stroke="#617a19" stroke-width="0.4"/>
<rect x="407.65" y="226.30" width="6.49" height="5.3" fill="#a2cc2a" stroke="#597017" stroke-width="0.5"/>
<path d="M407.65,226.30 L409.25,224.90 L415.74,224.90 L414.14,226.30 Z" fill="#c2dd74" stroke="#617a19" stroke-width="0.4"/>
<rect x="414.14" y="226.30" width="6.49" height="5.3" fill="#a80aa8" stroke="#5c055c" stroke-width="0.5"/>
<path d="M414.14,226.30 L415.74,224.90 L422.24,224.90 L420.64,226.30 Z" fill="#c65fc6" stroke="#640664" stroke-width="0.4"/>
<rect x="420.64" y="226.30" width="6.49" height="5.3" fill="#a80aa8" stroke="#5c055c" stroke-width="0.5"/>
<path d="M420.64,226.30 L422.24,224.90 L428.73,224.90 L427.13,226.30 Z" fill="#c65fc6" stroke="#640664" stroke-width="0.4"/>
<rect x="427.13" y="226.30" width="6.49" height="5.3" fill="#a80aa8" stroke="#5c055c" stroke-width="0.5"/>
<path d="M427.13,226.30 L428.73,224.90 L435.22,224.90 L433.62,226.30 Z" fill="#c65fc6" stroke="#640664" stroke-width="0.4"/>
<rect x="433.62" y="226.30" width="6.49" height="5.3" fill="#9a9af8" stroke="#545488" stroke-width="0.5"/>
<path d="M433.62,226.30 L435.22,224.90 L441.71,224.90 L440.11,226.30 Z" fill="#bdbdfa" stroke="#5c5c94" stroke-width="0.4"/>
<rect x="440.11" y="226.30" width="6.49" height="5.3" fill="#e00000" stroke="#7b0000" stroke-width="0.5"/>
<path d="M440.11,226.30 L441.71,224.90 L448.20,224.90 L446.60,226.30 Z" fill="#ea5959" stroke="#860000" stroke-width="0.4"/>
<rect x="446.60" y="229.30" width="6.49" height="2.5" fill="#e2e2e2" stroke="#9a9a9a" stroke-width="0.4"/>
<rect x="453.10" y="229.30" width="6.49" height="2.5" fill="#e2e2e2" stroke="#9a9a9a" stroke-width="0.4"/>
<rect x="459.59" y="229.30" width="6.49" height="2.5" fill="#e2e2e2" stroke="#9a9a9a" stroke-width="0.4"/>
<rect x="466.08" y="229.30" width="6.49" height="2.5" fill="#e2e2e2" stroke="#9a9a9a" stroke-width="0.4"/>
<rect x="472.57" y="229.30" width="6.49" height="2.5" fill="#e2e2e2" stroke="#9a9a9a" stroke-width="0.4"/>
<rect x="479.06" y="229.30" width="6.49" height="2.5" fill="#e2e2e2" stroke="#9a9a9a" stroke-width="0.4"/>
<rect x="485.56" y="229.30" width="6.49" height="2.5" fill="#e2e2e2" stroke="#9a9a9a" stroke-width="0.4"/>
<rect x="492.05" y="229.30" width="6.49" height="2.5" fill="#e2e2e2" stroke="#9a9a9a" stroke-width="0.4"/>
<rect x="498.54" y="229.30" width="6.49" height="2.5" fill="#e2e2e2" stroke="#9a9a9a" stroke-width="0.4"/>
<rect x="505.03" y="229.30" width="6.49" height="2.5" fill="#e2e2e2" stroke="#9a9a9a" stroke-width="0.4"/>
<path d="M50.59,210.40 L52.19,209.00 L52.19,214.30 L50.59,215.70 Z" fill="#79991f" stroke="#617a19" stroke-width="0.3"/>
<path d="M109.02,215.70 L110.62,214.30 L110.62,219.60 L109.02,221.00 Z" fill="#7e077e" stroke="#640664" stroke-width="0.3"/>
<path d="M245.35,221.00 L246.95,219.60 L246.95,224.90 L245.35,226.30 Z" fill="#7e077e" stroke="#640664" stroke-width="0.3"/>
<path d="M446.60,226.30 L448.20,224.90 L448.20,230.20 L446.60,231.60 Z" fill="#a80000" stroke="#860000" stroke-width="0.3"/>
<path d="M511.52,229.30 L513.12,227.90 L513.12,230.40 L511.52,231.80 Z" fill="#cfcfcf" stroke="#9a9a9a" stroke-width="0.35"/>
<path d="M446.60,229.30 L448.20,227.90 L513.12,227.90 L511.52,229.30 Z" fill="#eeeeee" stroke="#9a9a9a" stroke-width="0.35"/>
<rect x="44.10" y="242.9" width="6.49" height="5.3" fill="#777777" stroke="#777" stroke-width="0.5"/>
<path d="M44.10,242.9 L45.70,241.1 L52.19,241.1 L50.59,242.9 Z" fill="#8a8a8a" stroke="#888" stroke-width="0.3"/>
<rect x="50.59" y="242.9" width="6.49" height="5.3" fill="#fbfbfb" stroke="#777" stroke-width="0.5"/>
<path d="M50.59,242.9 L52.19,241.1 L58.68,241.1 L57.08,242.9 Z" fill="#d8d8d8" stroke="#888" stroke-width="0.3"/>
<rect x="57.08" y="242.9" width="6.49" height="5.3" fill="#c2c2c2" stroke="#777" stroke-width="0.5"/>
<path d="M57.08,242.9 L58.68,241.1 L65.18,241.1 L63.58,242.9 Z" fill="#b4b4b4" stroke="#888" stroke-width="0.3"/>
<rect x="63.58" y="242.9" width="6.49" height="5.3" fill="#777777" stroke="#777" stroke-width="0.5"/>
<path d="M63.58,242.9 L65.18,241.1 L71.67,241.1 L70.07,242.9 Z" fill="#8a8a8a" stroke="#888" stroke-width="0.3"/>
<rect x="70.07" y="242.9" width="6.49" height="5.3" fill="#777777" stroke="#777" stroke-width="0.5"/>
<path d="M70.07,242.9 L71.67,241.1 L78.16,241.1 L76.56,242.9 Z" fill="#8a8a8a" stroke="#888" stroke-width="0.3"/>
<rect x="76.56" y="242.9" width="6.49" height="5.3" fill="#777777" stroke="#777" stroke-width="0.5"/>
<path d="M76.56,242.9 L78.16,241.1 L84.65,241.1 L83.05,242.9 Z" fill="#8a8a8a" stroke="#888" stroke-width="0.3"/>
<rect x="83.05" y="242.9" width="6.49" height="5.3" fill="#c2c2c2" stroke="#777" stroke-width="0.5"/>
<path d="M83.05,242.9 L84.65,241.1 L91.14,241.1 L89.54,242.9 Z" fill="#b4b4b4" stroke="#888" stroke-width="0.3"/>
<rect x="89.54" y="242.9" width="6.49" height="5.3" fill="#c2c2c2" stroke="#777" stroke-width="0.5"/>
<path d="M89.54,242.9 L91.14,241.1 L97.64,241.1 L96.04,242.9 Z" fill="#b4b4b4" stroke="#888" stroke-width="0.3"/>
<rect x="96.04" y="242.9" width="6.49" height="5.3" fill="#fbfbfb" stroke="#777" stroke-width="0.5"/>
<path d="M96.04,242.9 L97.64,241.1 L104.13,241.1 L102.53,242.9 Z" fill="#d8d8d8" stroke="#888" stroke-width="0.3"/>
<rect x="102.53" y="242.9" width="6.49" height="5.3" fill="#777777" stroke="#777" stroke-width="0.5"/>
<path d="M102.53,242.9 L104.13,241.1 L110.62,241.1 L109.02,242.9 Z" fill="#8a8a8a" stroke="#888" stroke-width="0.3"/>
<rect x="109.02" y="242.9" width="6.49" height="5.3" fill="#fbfbfb" stroke="#777" stroke-width="0.5"/>
<path d="M109.02,242.9 L110.62,241.1 L117.11,241.1 L115.51,242.9 Z" fill="#d8d8d8" stroke="#888" stroke-width="0.3"/>
<rect x="115.51" y="242.9" width="6.49" height="5.3" fill="#fbfbfb" stroke="#777" stroke-width="0.5"/>
<path d="M115.51,242.9 L117.11,241.1 L123.60,241.1 L122.00,242.9 Z" fill="#d8d8d8" stroke="#888" stroke-width="0.3"/>
<rect x="122.00" y="242.9" width="6.49" height="5.3" fill="#fbfbfb" stroke="#777" stroke-width="0.5"/>
<path d="M122.00,242.9 L123.60,241.1 L130.10,241.1 L128.50,242.9 Z" fill="#d8d8d8" stroke="#888" stroke-width="0.3"/>
<rect x="128.50" y="242.9" width="6.49" height="5.3" fill="#fbfbfb" stroke="#777" stroke-width="0.5"/>
<path d="M128.50,242.9 L130.10,241.1 L136.59,241.1 L134.99,242.9 Z" fill="#d8d8d8" stroke="#888" stroke-width="0.3"/>
<rect x="134.99" y="242.9" width="6.49" height="5.3" fill="#fbfbfb" stroke="#777" stroke-width="0.5"/>
<path d="M134.99,242.9 L136.59,241.1 L143.08,241.1 L141.48,242.9 Z" fill="#d8d8d8" stroke="#888" stroke-width="0.3"/>
<rect x="141.48" y="242.9" width="6.49" height="5.3" fill="#c2c2c2" stroke="#777" stroke-width="0.5"/>
<path d="M141.48,242.9 L143.08,241.1 L149.57,241.1 L147.97,242.9 Z" fill="#b4b4b4" stroke="#888" stroke-width="0.3"/>
<rect x="147.97" y="242.9" width="6.49" height="5.3" fill="#c2c2c2" stroke="#777" stroke-width="0.5"/>
<path d="M147.97,242.9 L149.57,241.1 L156.06,241.1 L154.46,242.9 Z" fill="#b4b4b4" stroke="#888" stroke-width="0.3"/>
<rect x="154.46" y="242.9" width="6.49" height="5.3" fill="#c2c2c2" stroke="#777" stroke-width="0.5"/>
<path d="M154.46,242.9 L156.06,241.1 L162.56,241.1 L160.96,242.9 Z" fill="#b4b4b4" stroke="#888" stroke-width="0.3"/>
<rect x="160.96" y="242.9" width="6.49" height="5.3" fill="#777777" stroke="#777" stroke-width="0.5"/>
<path d="M160.96,242.9 L162.56,241.1 L169.05,241.1 L167.45,242.9 Z" fill="#8a8a8a" stroke="#888" stroke-width="0.3"/>
<rect x="167.45" y="242.9" width="6.49" height="5.3" fill="#fbfbfb" stroke="#777" stroke-width="0.5"/>
<path d="M167.45,242.9 L169.05,241.1 L175.54,241.1 L173.94,242.9 Z" fill="#d8d8d8" stroke="#888" stroke-width="0.3"/>
<rect x="173.94" y="242.9" width="6.49" height="5.3" fill="#fbfbfb" stroke="#777" stroke-width="0.5"/>
<path d="M173.94,242.9 L175.54,241.1 L182.03,241.1 L180.43,242.9 Z" fill="#d8d8d8" stroke="#888" stroke-width="0.3"/>
<rect x="180.43" y="242.9" width="6.49" height="5.3" fill="#fbfbfb" stroke="#777" stroke-width="0.5"/>
<path d="M180.43,242.9 L182.03,241.1 L188.52,241.1 L186.92,242.9 Z" fill="#d8d8d8" stroke="#888" stroke-width="0.3"/>
<rect x="186.92" y="242.9" width="6.49" height="5.3" fill="#777777" stroke="#777" stroke-width="0.5"/>
<path d="M186.92,242.9 L188.52,241.1 L195.02,241.1 L193.42,242.9 Z" fill="#8a8a8a" stroke="#888" stroke-width="0.3"/>
<rect x="193.42" y="242.9" width="6.49" height="5.3" fill="#777777" stroke="#777" stroke-width="0.5"/>
<path d="M193.42,242.9 L195.02,241.1 L201.51,241.1 L199.91,242.9 Z" fill="#8a8a8a" stroke="#888" stroke-width="0.3"/>
<rect x="199.91" y="242.9" width="6.49" height="5.3" fill="#fbfbfb" stroke="#777" stroke-width="0.5"/>
<path d="M199.91,242.9 L201.51,241.1 L208.00,241.1 L206.40,242.9 Z" fill="#d8d8d8" stroke="#888" stroke-width="0.3"/>
<rect x="206.40" y="242.9" width="6.49" height="5.3" fill="#fbfbfb" stroke="#777" stroke-width="0.5"/>
<path d="M206.40,242.9 L208.00,241.1 L214.49,241.1 L212.89,242.9 Z" fill="#d8d8d8" stroke="#888" stroke-width="0.3"/>
<rect x="212.89" y="242.9" width="6.49" height="5.3" fill="#777777" stroke="#777" stroke-width="0.5"/>
<path d="M212.89,242.9 L214.49,241.1 L220.98,241.1 L219.38,242.9 Z" fill="#8a8a8a" stroke="#888" stroke-width="0.3"/>
<rect x="219.38" y="242.9" width="6.49" height="5.3" fill="#fbfbfb" stroke="#777" stroke-width="0.5"/>
<path d="M219.38,242.9 L220.98,241.1 L227.48,241.1 L225.88,242.9 Z" fill="#d8d8d8" stroke="#888" stroke-width="0.3"/>
<rect x="225.88" y="242.9" width="6.49" height="5.3" fill="#fbfbfb" stroke="#777" stroke-width="0.5"/>
<path d="M225.88,242.9 L227.48,241.1 L233.97,241.1 L232.37,242.9 Z" fill="#d8d8d8" stroke="#888" stroke-width="0.3"/>
<rect x="232.37" y="242.9" width="6.49" height="5.3" fill="#c2c2c2" stroke="#777" stroke-width="0.5"/>
<path d="M232.37,242.9 L233.97,241.1 L240.46,241.1 L238.86,242.9 Z" fill="#b4b4b4" stroke="#888" stroke-width="0.3"/>
<rect x="238.86" y="242.9" width="6.49" height="5.3" fill="#777777" stroke="#777" stroke-width="0.5"/>
<path d="M238.86,242.9 L240.46,241.1 L246.95,241.1 L245.35,242.9 Z" fill="#8a8a8a" stroke="#888" stroke-width="0.3"/>
<rect x="245.35" y="242.9" width="6.49" height="5.3" fill="#fbfbfb" stroke="#777" stroke-width="0.5"/>
<path d="M245.35,242.9 L246.95,241.1 L253.44,241.1 L251.84,242.9 Z" fill="#d8d8d8" stroke="#888" stroke-width="0.3"/>
<rect x="251.84" y="242.9" width="6.49" height="5.3" fill="#fbfbfb" stroke="#777" stroke-width="0.5"/>
<path d="M251.84,242.9 L253.44,241.1 L259.94,241.1 L258.34,242.9 Z" fill="#d8d8d8" stroke="#888" stroke-width="0.3"/>
<rect x="258.34" y="242.9" width="6.49" height="5.3" fill="#fbfbfb" stroke="#777" stroke-width="0.5"/>
<path d="M258.34,242.9 L259.94,241.1 L266.43,241.1 L264.83,242.9 Z" fill="#d8d8d8" stroke="#888" stroke-width="0.3"/>
<rect x="264.83" y="242.9" width="6.49" height="5.3" fill="#fbfbfb" stroke="#777" stroke-width="0.5"/>
<path d="M264.83,242.9 L266.43,241.1 L272.92,241.1 L271.32,242.9 Z" fill="#d8d8d8" stroke="#888" stroke-width="0.3"/>
<rect x="271.32" y="242.9" width="6.49" height="5.3" fill="#fbfbfb" stroke="#777" stroke-width="0.5"/>
<path d="M271.32,242.9 L272.92,241.1 L279.41,241.1 L277.81,242.9 Z" fill="#d8d8d8" stroke="#888" stroke-width="0.3"/>
<rect x="277.81" y="242.9" width="6.49" height="5.3" fill="#fbfbfb" stroke="#777" stroke-width="0.5"/>
<path d="M277.81,242.9 L279.41,241.1 L285.90,241.1 L284.30,242.9 Z" fill="#d8d8d8" stroke="#888" stroke-width="0.3"/>
<rect x="284.30" y="242.9" width="6.49" height="5.3" fill="#fbfbfb" stroke="#777" stroke-width="0.5"/>
<path d="M284.30,242.9 L285.90,241.1 L292.40,241.1 L290.80,242.9 Z" fill="#d8d8d8" stroke="#888" stroke-width="0.3"/>
<rect x="290.80" y="242.9" width="6.49" height="5.3" fill="#c2c2c2" stroke="#777" stroke-width="0.5"/>
<path d="M290.80,242.9 L292.40,241.1 L298.89,241.1 L297.29,242.9 Z" fill="#b4b4b4" stroke="#888" stroke-width="0.3"/>
<rect x="297.29" y="242.9" width="6.49" height="5.3" fill="#777777" stroke="#777" stroke-width="0.5"/>
<path d="M297.29,242.9 L298.89,241.1 L305.38,241.1 L303.78,242.9 Z" fill="#8a8a8a" stroke="#888" stroke-width="0.3"/>
<rect x="303.78" y="242.9" width="6.49" height="5.3" fill="#777777" stroke="#777" stroke-width="0.5"/>
<path d="M303.78,242.9 L305.38,241.1 L311.87,241.1 L310.27,242.9 Z" fill="#8a8a8a" stroke="#888" stroke-width="0.3"/>
<rect x="310.27" y="242.9" width="6.49" height="5.3" fill="#777777" stroke="#777" stroke-width="0.5"/>
<path d="M310.27,242.9 L311.87,241.1 L318.36,241.1 L316.76,242.9 Z" fill="#8a8a8a" stroke="#888" stroke-width="0.3"/>
<rect x="316.76" y="242.9" width="6.49" height="5.3" fill="#777777" stroke="#777" stroke-width="0.5"/>
<path d="M316.76,242.9 L318.36,241.1 L324.86,241.1 L323.26,242.9 Z" fill="#8a8a8a" stroke="#888" stroke-width="0.3"/>
<rect x="323.26" y="242.9" width="6.49" height="5.3" fill="#fbfbfb" stroke="#777" stroke-width="0.5"/>
<path d="M323.26,242.9 L324.86,241.1 L331.35,241.1 L329.75,242.9 Z" fill="#d8d8d8" stroke="#888" stroke-width="0.3"/>
<rect x="329.75" y="242.9" width="6.49" height="5.3" fill="#fbfbfb" stroke="#777" stroke-width="0.5"/>
<path d="M329.75,242.9 L331.35,241.1 L337.84,241.1 L336.24,242.9 Z" fill="#d8d8d8" stroke="#888" stroke-width="0.3"/>
<rect x="336.24" y="242.9" width="6.49" height="5.3" fill="#fbfbfb" stroke="#777" stroke-width="0.5"/>
<path d="M336.24,242.9 L337.84,241.1 L344.33,241.1 L342.73,242.9 Z" fill="#d8d8d8" stroke="#888" stroke-width="0.3"/>
<rect x="342.73" y="242.9" width="6.49" height="5.3" fill="#fbfbfb" stroke="#777" stroke-width="0.5"/>
<path d="M342.73,242.9 L344.33,241.1 L350.82,241.1 L349.22,242.9 Z" fill="#d8d8d8" stroke="#888" stroke-width="0.3"/>
<rect x="349.22" y="242.9" width="6.49" height="5.3" fill="#c2c2c2" stroke="#777" stroke-width="0.5"/>
<path d="M349.22,242.9 L350.82,241.1 L357.32,241.1 L355.72,242.9 Z" fill="#b4b4b4" stroke="#888" stroke-width="0.3"/>
<rect x="355.72" y="242.9" width="6.49" height="5.3" fill="#c2c2c2" stroke="#777" stroke-width="0.5"/>
<path d="M355.72,242.9 L357.32,241.1 L363.81,241.1 L362.21,242.9 Z" fill="#b4b4b4" stroke="#888" stroke-width="0.3"/>
<rect x="362.21" y="242.9" width="6.49" height="5.3" fill="#777777" stroke="#777" stroke-width="0.5"/>
<path d="M362.21,242.9 L363.81,241.1 L370.30,241.1 L368.70,242.9 Z" fill="#8a8a8a" stroke="#888" stroke-width="0.3"/>
<rect x="368.70" y="242.9" width="6.49" height="5.3" fill="#777777" stroke="#777" stroke-width="0.5"/>
<path d="M368.70,242.9 L370.30,241.1 L376.79,241.1 L375.19,242.9 Z" fill="#8a8a8a" stroke="#888" stroke-width="0.3"/>
<rect x="375.19" y="242.9" width="6.49" height="5.3" fill="#fbfbfb" stroke="#777" stroke-width="0.5"/>
<path d="M375.19,242.9 L376.79,241.1 L383.28,241.1 L381.68,242.9 Z" fill="#d8d8d8" stroke="#888" stroke-width="0.3"/>
<rect x="381.68" y="242.9" width="6.49" height="5.3" fill="#fbfbfb" stroke="#777" stroke-width="0.5"/>
<path d="M381.68,242.9 L383.28,241.1 L389.78,241.1 L388.18,242.9 Z" fill="#d8d8d8" stroke="#888" stroke-width="0.3"/>
<rect x="388.18" y="242.9" width="6.49" height="5.3" fill="#fbfbfb" stroke="#777" stroke-width="0.5"/>
<path d="M388.18,242.9 L389.78,241.1 L396.27,241.1 L394.67,242.9 Z" fill="#d8d8d8" stroke="#888" stroke-width="0.3"/>
<rect x="394.67" y="242.9" width="6.49" height="5.3" fill="#fbfbfb" stroke="#777" stroke-width="0.5"/>
<path d="M394.67,242.9 L396.27,241.1 L402.76,241.1 L401.16,242.9 Z" fill="#d8d8d8" stroke="#888" stroke-width="0.3"/>
<rect x="401.16" y="242.9" width="6.49" height="5.3" fill="#c2c2c2" stroke="#777" stroke-width="0.5"/>
<path d="M401.16,242.9 L402.76,241.1 L409.25,241.1 L407.65,242.9 Z" fill="#b4b4b4" stroke="#888" stroke-width="0.3"/>
<rect x="407.65" y="242.9" width="6.49" height="5.3" fill="#c2c2c2" stroke="#777" stroke-width="0.5"/>
<path d="M407.65,242.9 L409.25,241.1 L415.74,241.1 L414.14,242.9 Z" fill="#b4b4b4" stroke="#888" stroke-width="0.3"/>
<rect x="414.14" y="242.9" width="6.49" height="5.3" fill="#c2c2c2" stroke="#777" stroke-width="0.5"/>
<path d="M414.14,242.9 L415.74,241.1 L422.24,241.1 L420.64,242.9 Z" fill="#b4b4b4" stroke="#888" stroke-width="0.3"/>
<rect x="420.64" y="242.9" width="6.49" height="5.3" fill="#777777" stroke="#777" stroke-width="0.5"/>
<path d="M420.64,242.9 L422.24,241.1 L428.73,241.1 L427.13,242.9 Z" fill="#8a8a8a" stroke="#888" stroke-width="0.3"/>
<rect x="427.13" y="242.9" width="6.49" height="5.3" fill="#777777" stroke="#777" stroke-width="0.5"/>
<path d="M427.13,242.9 L428.73,241.1 L435.22,241.1 L433.62,242.9 Z" fill="#8a8a8a" stroke="#888" stroke-width="0.3"/>
<rect x="433.62" y="242.9" width="6.49" height="5.3" fill="#fbfbfb" stroke="#777" stroke-width="0.5"/>
<path d="M433.62,242.9 L435.22,241.1 L441.71,241.1 L440.11,242.9 Z" fill="#d8d8d8" stroke="#888" stroke-width="0.3"/>
<rect x="440.11" y="242.9" width="6.49" height="5.3" fill="#fbfbfb" stroke="#777" stroke-width="0.5"/>
<path d="M440.11,242.9 L441.71,241.1 L448.20,241.1 L446.60,242.9 Z" fill="#d8d8d8" stroke="#888" stroke-width="0.3"/>
<rect x="446.60" y="242.9" width="6.49" height="5.3" fill="#fbfbfb" stroke="#777" stroke-width="0.5"/>
<path d="M446.60,242.9 L448.20,241.1 L454.70,241.1 L453.10,242.9 Z" fill="#d8d8d8" stroke="#888" stroke-width="0.3"/>
<rect x="453.10" y="242.9" width="6.49" height="5.3" fill="#c2c2c2" stroke="#777" stroke-width="0.5"/>
<path d="M453.10,242.9 L454.70,241.1 L461.19,241.1 L459.59,242.9 Z" fill="#b4b4b4" stroke="#888" stroke-width="0.3"/>
<rect x="459.59" y="242.9" width="6.49" height="5.3" fill="#777777" stroke="#777" stroke-width="0.5"/>
<path d="M459.59,242.9 L461.19,241.1 L467.68,241.1 L466.08,242.9 Z" fill="#8a8a8a" stroke="#888" stroke-width="0.3"/>
<rect x="466.08" y="242.9" width="6.49" height="5.3" fill="#777777" stroke="#777" stroke-width="0.5"/>
<path d="M466.08,242.9 L467.68,241.1 L474.17,241.1 L472.57,242.9 Z" fill="#8a8a8a" stroke="#888" stroke-width="0.3"/>
<rect x="472.57" y="242.9" width="6.49" height="5.3" fill="#fbfbfb" stroke="#777" stroke-width="0.5"/>
<path d="M472.57,242.9 L474.17,241.1 L480.66,241.1 L479.06,242.9 Z" fill="#d8d8d8" stroke="#888" stroke-width="0.3"/>
<rect x="479.06" y="242.9" width="6.49" height="5.3" fill="#fbfbfb" stroke="#777" stroke-width="0.5"/>
<path d="M479.06,242.9 L480.66,241.1 L487.16,241.1 L485.56,242.9 Z" fill="#d8d8d8" stroke="#888" stroke-width="0.3"/>
<rect x="485.56" y="242.9" width="6.49" height="5.3" fill="#fbfbfb" stroke="#777" stroke-width="0.5"/>
<path d="M485.56,242.9 L487.16,241.1 L493.65,241.1 L492.05,242.9 Z" fill="#d8d8d8" stroke="#888" stroke-width="0.3"/>
<rect x="492.05" y="242.9" width="6.49" height="5.3" fill="#c2c2c2" stroke="#777" stroke-width="0.5"/>
<path d="M492.05,242.9 L493.65,241.1 L500.14,241.1 L498.54,242.9 Z" fill="#b4b4b4" stroke="#888" stroke-width="0.3"/>
<rect x="498.54" y="242.9" width="6.49" height="5.3" fill="#c2c2c2" stroke="#777" stroke-width="0.5"/>
<path d="M498.54,242.9 L500.14,241.1 L506.63,241.1 L505.03,242.9 Z" fill="#b4b4b4" stroke="#888" stroke-width="0.3"/>
<rect x="505.03" y="242.9" width="6.49" height="5.3" fill="#fbfbfb" stroke="#777" stroke-width="0.5"/>
<path d="M505.03,242.9 L506.63,241.1 L513.12,241.1 L511.52,242.9 Z" fill="#d8d8d8" stroke="#888" stroke-width="0.3"/>
<path d="M511.52,242.9 L513.12,241.1 L513.12,246.4 L511.52,248.20000000000002 Z" fill="#d0d0d0" stroke="#888" stroke-width="0.4"/>
<rect x="44.10" y="260.6" width="6.49" height="5.5" fill="#f9e6ea" stroke="#c9a0b0" stroke-width="0.45"/>
<path d="M44.10,260.6 L45.70,258.80000000000007 L52.19,258.80000000000007 L50.59,260.6 Z" fill="#d3c3c6" stroke="#c9a0b0" stroke-width="0.3"/>
<rect x="50.59" y="260.6" width="6.49" height="5.5" fill="#3355ee" stroke="#2233aa" stroke-width="0.45"/>
<path d="M50.59,260.6 L52.19,258.80000000000007 L58.68,258.80000000000007 L57.08,260.6 Z" fill="#2b48ca" stroke="#2233aa" stroke-width="0.3"/>
<rect x="57.08" y="260.6" width="6.49" height="5.5" fill="#fbfbfb" stroke="#a0a0a0" stroke-width="0.45"/>
<path d="M57.08,260.6 L58.68,258.80000000000007 L65.18,258.80000000000007 L63.58,260.6 Z" fill="#d5d5d5" stroke="#a0a0a0" stroke-width="0.3"/>
<rect x="63.58" y="260.6" width="6.49" height="5.5" fill="#a8cdf4" stroke="#7c9cc4" stroke-width="0.45"/>
<path d="M63.58,260.6 L65.18,258.80000000000007 L71.67,258.80000000000007 L70.07,260.6 Z" fill="#8eaecf" stroke="#7c9cc4" stroke-width="0.3"/>
<rect x="70.07" y="260.6" width="6.49" height="5.5" fill="#fbfbfb" stroke="#a0a0a0" stroke-width="0.45"/>
<path d="M70.07,260.6 L71.67,258.80000000000007 L78.16,258.80000000000007 L76.56,260.6 Z" fill="#d5d5d5" stroke="#a0a0a0" stroke-width="0.3"/>
<rect x="76.56" y="260.6" width="6.49" height="5.5" fill="#fbfbfb" stroke="#a0a0a0" stroke-width="0.45"/>
<path d="M76.56,260.6 L78.16,258.80000000000007 L84.65,258.80000000000007 L83.05,260.6 Z" fill="#d5d5d5" stroke="#a0a0a0" stroke-width="0.3"/>
<rect x="83.05" y="260.6" width="6.49" height="5.5" fill="#a8cdf4" stroke="#7c9cc4" stroke-width="0.45"/>
<path d="M83.05,260.6 L84.65,258.80000000000007 L91.14,258.80000000000007 L89.54,260.6 Z" fill="#8eaecf" stroke="#7c9cc4" stroke-width="0.3"/>
<rect x="89.54" y="260.6" width="6.49" height="5.5" fill="#fbfbfb" stroke="#a0a0a0" stroke-width="0.45"/>
<path d="M89.54,260.6 L91.14,258.80000000000007 L97.64,258.80000000000007 L96.04,260.6 Z" fill="#d5d5d5" stroke="#a0a0a0" stroke-width="0.3"/>
<rect x="96.04" y="260.6" width="6.49" height="5.5" fill="#a855f5" stroke="#7a3ab0" stroke-width="0.45"/>
<path d="M96.04,260.6 L97.64,258.80000000000007 L104.13,258.80000000000007 L102.53,260.6 Z" fill="#8e48d0" stroke="#7a3ab0" stroke-width="0.3"/>
<rect x="102.53" y="260.6" width="6.49" height="5.5" fill="#3355ee" stroke="#2233aa" stroke-width="0.45"/>
<path d="M102.53,260.6 L104.13,258.80000000000007 L110.62,258.80000000000007 L109.02,260.6 Z" fill="#2b48ca" stroke="#2233aa" stroke-width="0.3"/>
<rect x="109.02" y="260.6" width="6.49" height="5.5" fill="#fbfbfb" stroke="#a0a0a0" stroke-width="0.45"/>
<path d="M109.02,260.6 L110.62,258.80000000000007 L117.11,258.80000000000007 L115.51,260.6 Z" fill="#d5d5d5" stroke="#a0a0a0" stroke-width="0.3"/>
<rect x="115.51" y="260.6" width="6.49" height="5.5" fill="#fbfbfb" stroke="#a0a0a0" stroke-width="0.45"/>
<path d="M115.51,260.6 L117.11,258.80000000000007 L123.60,258.80000000000007 L122.00,260.6 Z" fill="#d5d5d5" stroke="#a0a0a0" stroke-width="0.3"/>
<rect x="122.00" y="260.6" width="6.49" height="5.5" fill="#fbfbfb" stroke="#a0a0a0" stroke-width="0.45"/>
<path d="M122.00,260.6 L123.60,258.80000000000007 L130.10,258.80000000000007 L128.50,260.6 Z" fill="#d5d5d5" stroke="#a0a0a0" stroke-width="0.3"/>
<rect x="128.50" y="260.6" width="6.49" height="5.5" fill="#fbfbfb" stroke="#a0a0a0" stroke-width="0.45"/>
<path d="M128.50,260.6 L130.10,258.80000000000007 L136.59,258.80000000000007 L134.99,260.6 Z" fill="#d5d5d5" stroke="#a0a0a0" stroke-width="0.3"/>
<rect x="134.99" y="260.6" width="6.49" height="5.5" fill="#fbfbfb" stroke="#a0a0a0" stroke-width="0.45"/>
<path d="M134.99,260.6 L136.59,258.80000000000007 L143.08,258.80000000000007 L141.48,260.6 Z" fill="#d5d5d5" stroke="#a0a0a0" stroke-width="0.3"/>
<rect x="141.48" y="260.6" width="6.49" height="5.5" fill="#fbfbfb" stroke="#a0a0a0" stroke-width="0.45"/>
<path d="M141.48,260.6 L143.08,258.80000000000007 L149.57,258.80000000000007 L147.97,260.6 Z" fill="#d5d5d5" stroke="#a0a0a0" stroke-width="0.3"/>
<rect x="147.97" y="260.6" width="6.49" height="5.5" fill="#fbfbfb" stroke="#a0a0a0" stroke-width="0.45"/>
<path d="M147.97,260.6 L149.57,258.80000000000007 L156.06,258.80000000000007 L154.46,260.6 Z" fill="#d5d5d5" stroke="#a0a0a0" stroke-width="0.3"/>
<rect x="154.46" y="260.6" width="6.49" height="5.5" fill="#fbfbfb" stroke="#a0a0a0" stroke-width="0.45"/>
<path d="M154.46,260.6 L156.06,258.80000000000007 L162.56,258.80000000000007 L160.96,260.6 Z" fill="#d5d5d5" stroke="#a0a0a0" stroke-width="0.3"/>
<rect x="160.96" y="260.6" width="6.49" height="5.5" fill="#fbfbfb" stroke="#a0a0a0" stroke-width="0.45"/>
<path d="M160.96,260.6 L162.56,258.80000000000007 L169.05,258.80000000000007 L167.45,260.6 Z" fill="#d5d5d5" stroke="#a0a0a0" stroke-width="0.3"/>
<rect x="167.45" y="260.6" width="6.49" height="5.5" fill="#a8cdf4" stroke="#7c9cc4" stroke-width="0.45"/>
<path d="M167.45,260.6 L169.05,258.80000000000007 L175.54,258.80000000000007 L173.94,260.6 Z" fill="#8eaecf" stroke="#7c9cc4" stroke-width="0.3"/>
<rect x="173.94" y="260.6" width="6.49" height="5.5" fill="#f9e6ea" stroke="#c9a0b0" stroke-width="0.45"/>
<path d="M173.94,260.6 L175.54,258.80000000000007 L182.03,258.80000000000007 L180.43,260.6 Z" fill="#d3c3c6" stroke="#c9a0b0" stroke-width="0.3"/>
<rect x="180.43" y="260.6" width="6.49" height="5.5" fill="#fbfbfb" stroke="#a0a0a0" stroke-width="0.45"/>
<path d="M180.43,260.6 L182.03,258.80000000000007 L188.52,258.80000000000007 L186.92,260.6 Z" fill="#d5d5d5" stroke="#a0a0a0" stroke-width="0.3"/>
<rect x="186.92" y="260.6" width="6.49" height="5.5" fill="#7676ee" stroke="#5555b0" stroke-width="0.45"/>
<path d="M186.92,260.6 L188.52,258.80000000000007 L195.02,258.80000000000007 L193.42,260.6 Z" fill="#6464ca" stroke="#5555b0" stroke-width="0.3"/>
<rect x="193.42" y="260.6" width="6.49" height="5.5" fill="#a855f5" stroke="#7a3ab0" stroke-width="0.45"/>
<path d="M193.42,260.6 L195.02,258.80000000000007 L201.51,258.80000000000007 L199.91,260.6 Z" fill="#8e48d0" stroke="#7a3ab0" stroke-width="0.3"/>
<rect x="199.91" y="260.6" width="6.49" height="5.5" fill="#fbfbfb" stroke="#a0a0a0" stroke-width="0.45"/>
<path d="M199.91,260.6 L201.51,258.80000000000007 L208.00,258.80000000000007 L206.40,260.6 Z" fill="#d5d5d5" stroke="#a0a0a0" stroke-width="0.3"/>
<rect x="206.40" y="260.6" width="6.49" height="5.5" fill="#7676ee" stroke="#5555b0" stroke-width="0.45"/>
<path d="M206.40,260.6 L208.00,258.80000000000007 L214.49,258.80000000000007 L212.89,260.6 Z" fill="#6464ca" stroke="#5555b0" stroke-width="0.3"/>
<rect x="212.89" y="260.6" width="6.49" height="5.5" fill="#7676ee" stroke="#5555b0" stroke-width="0.45"/>
<path d="M212.89,260.6 L214.49,258.80000000000007 L220.98,258.80000000000007 L219.38,260.6 Z" fill="#6464ca" stroke="#5555b0" stroke-width="0.3"/>
<rect x="219.38" y="260.6" width="6.49" height="5.5" fill="#fbfbfb" stroke="#a0a0a0" stroke-width="0.45"/>
<path d="M219.38,260.6 L220.98,258.80000000000007 L227.48,258.80000000000007 L225.88,260.6 Z" fill="#d5d5d5" stroke="#a0a0a0" stroke-width="0.3"/>
<rect x="225.88" y="260.6" width="6.49" height="5.5" fill="#a8cdf4" stroke="#7c9cc4" stroke-width="0.45"/>
<path d="M225.88,260.6 L227.48,258.80000000000007 L233.97,258.80000000000007 L232.37,260.6 Z" fill="#8eaecf" stroke="#7c9cc4" stroke-width="0.3"/>
<rect x="232.37" y="260.6" width="6.49" height="5.5" fill="#fbfbfb" stroke="#a0a0a0" stroke-width="0.45"/>
<path d="M232.37,260.6 L233.97,258.80000000000007 L240.46,258.80000000000007 L238.86,260.6 Z" fill="#d5d5d5" stroke="#a0a0a0" stroke-width="0.3"/>
<rect x="238.86" y="260.6" width="6.49" height="5.5" fill="#fbfbfb" stroke="#a0a0a0" stroke-width="0.45"/>
<path d="M238.86,260.6 L240.46,258.80000000000007 L246.95,258.80000000000007 L245.35,260.6 Z" fill="#d5d5d5" stroke="#a0a0a0" stroke-width="0.3"/>
<rect x="245.35" y="260.6" width="6.49" height="5.5" fill="#fbfbfb" stroke="#a0a0a0" stroke-width="0.45"/>
<path d="M245.35,260.6 L246.95,258.80000000000007 L253.44,258.80000000000007 L251.84,260.6 Z" fill="#d5d5d5" stroke="#a0a0a0" stroke-width="0.3"/>
<rect x="251.84" y="260.6" width="6.49" height="5.5" fill="#fbfbfb" stroke="#a0a0a0" stroke-width="0.45"/>
<path d="M251.84,260.6 L253.44,258.80000000000007 L259.94,258.80000000000007 L258.34,260.6 Z" fill="#d5d5d5" stroke="#a0a0a0" stroke-width="0.3"/>
<rect x="258.34" y="260.6" width="6.49" height="5.5" fill="#fbfbfb" stroke="#a0a0a0" stroke-width="0.45"/>
<path d="M258.34,260.6 L259.94,258.80000000000007 L266.43,258.80000000000007 L264.83,260.6 Z" fill="#d5d5d5" stroke="#a0a0a0" stroke-width="0.3"/>
<rect x="264.83" y="260.6" width="6.49" height="5.5" fill="#fbfbfb" stroke="#a0a0a0" stroke-width="0.45"/>
<path d="M264.83,260.6 L266.43,258.80000000000007 L272.92,258.80000000000007 L271.32,260.6 Z" fill="#d5d5d5" stroke="#a0a0a0" stroke-width="0.3"/>
<rect x="271.32" y="260.6" width="6.49" height="5.5" fill="#a855f5" stroke="#7a3ab0" stroke-width="0.45"/>
<path d="M271.32,260.6 L272.92,258.80000000000007 L279.41,258.80000000000007 L277.81,260.6 Z" fill="#8e48d0" stroke="#7a3ab0" stroke-width="0.3"/>
<rect x="277.81" y="260.6" width="6.49" height="5.5" fill="#7676ee" stroke="#5555b0" stroke-width="0.45"/>
<path d="M277.81,260.6 L279.41,258.80000000000007 L285.90,258.80000000000007 L284.30,260.6 Z" fill="#6464ca" stroke="#5555b0" stroke-width="0.3"/>
<rect x="284.30" y="260.6" width="6.49" height="5.5" fill="#7676ee" stroke="#5555b0" stroke-width="0.45"/>
<path d="M284.30,260.6 L285.90,258.80000000000007 L292.40,258.80000000000007 L290.80,260.6 Z" fill="#6464ca" stroke="#5555b0" stroke-width="0.3"/>
<rect x="290.80" y="260.6" width="6.49" height="5.5" fill="#fbfbfb" stroke="#a0a0a0" stroke-width="0.45"/>
<path d="M290.80,260.6 L292.40,258.80000000000007 L298.89,258.80000000000007 L297.29,260.6 Z" fill="#d5d5d5" stroke="#a0a0a0" stroke-width="0.3"/>
<rect x="297.29" y="260.6" width="6.49" height="5.5" fill="#fbfbfb" stroke="#a0a0a0" stroke-width="0.45"/>
<path d="M297.29,260.6 L298.89,258.80000000000007 L305.38,258.80000000000007 L303.78,260.6 Z" fill="#d5d5d5" stroke="#a0a0a0" stroke-width="0.3"/>
<rect x="303.78" y="260.6" width="6.49" height="5.5" fill="#fbfbfb" stroke="#a0a0a0" stroke-width="0.45"/>
<path d="M303.78,260.6 L305.38,258.80000000000007 L311.87,258.80000000000007 L310.27,260.6 Z" fill="#d5d5d5" stroke="#a0a0a0" stroke-width="0.3"/>
<rect x="310.27" y="260.6" width="6.49" height="5.5" fill="#3355ee" stroke="#2233aa" stroke-width="0.45"/>
<path d="M310.27,260.6 L311.87,258.80000000000007 L318.36,258.80000000000007 L316.76,260.6 Z" fill="#2b48ca" stroke="#2233aa" stroke-width="0.3"/>
<rect x="316.76" y="260.6" width="6.49" height="5.5" fill="#f9e6ea" stroke="#c9a0b0" stroke-width="0.45"/>
<path d="M316.76,260.6 L318.36,258.80000000000007 L324.86,258.80000000000007 L323.26,260.6 Z" fill="#d3c3c6" stroke="#c9a0b0" stroke-width="0.3"/>
<rect x="323.26" y="260.6" width="6.49" height="5.5" fill="#fbfbfb" stroke="#a0a0a0" stroke-width="0.45"/>
<path d="M323.26,260.6 L324.86,258.80000000000007 L331.35,258.80000000000007 L329.75,260.6 Z" fill="#d5d5d5" stroke="#a0a0a0" stroke-width="0.3"/>
<rect x="329.75" y="260.6" width="6.49" height="5.5" fill="#fbfbfb" stroke="#a0a0a0" stroke-width="0.45"/>
<path d="M329.75,260.6 L331.35,258.80000000000007 L337.84,258.80000000000007 L336.24,260.6 Z" fill="#d5d5d5" stroke="#a0a0a0" stroke-width="0.3"/>
<rect x="336.24" y="260.6" width="6.49" height="5.5" fill="#fbfbfb" stroke="#a0a0a0" stroke-width="0.45"/>
<path d="M336.24,260.6 L337.84,258.80000000000007 L344.33,258.80000000000007 L342.73,260.6 Z" fill="#d5d5d5" stroke="#a0a0a0" stroke-width="0.3"/>
<rect x="342.73" y="260.6" width="6.49" height="5.5" fill="#a8cdf4" stroke="#7c9cc4" stroke-width="0.45"/>
<path d="M342.73,260.6 L344.33,258.80000000000007 L350.82,258.80000000000007 L349.22,260.6 Z" fill="#8eaecf" stroke="#7c9cc4" stroke-width="0.3"/>
<rect x="349.22" y="260.6" width="6.49" height="5.5" fill="#a8cdf4" stroke="#7c9cc4" stroke-width="0.45"/>
<path d="M349.22,260.6 L350.82,258.80000000000007 L357.32,258.80000000000007 L355.72,260.6 Z" fill="#8eaecf" stroke="#7c9cc4" stroke-width="0.3"/>
<rect x="355.72" y="260.6" width="6.49" height="5.5" fill="#6cc2b8" stroke="#4a9a90" stroke-width="0.45"/>
<path d="M355.72,260.6 L357.32,258.80000000000007 L363.81,258.80000000000007 L362.21,260.6 Z" fill="#5ba49c" stroke="#4a9a90" stroke-width="0.3"/>
<rect x="362.21" y="260.6" width="6.49" height="5.5" fill="#fbfbfb" stroke="#a0a0a0" stroke-width="0.45"/>
<path d="M362.21,260.6 L363.81,258.80000000000007 L370.30,258.80000000000007 L368.70,260.6 Z" fill="#d5d5d5" stroke="#a0a0a0" stroke-width="0.3"/>
<rect x="368.70" y="260.6" width="6.49" height="5.5" fill="#3355ee" stroke="#2233aa" stroke-width="0.45"/>
<path d="M368.70,260.6 L370.30,258.80000000000007 L376.79,258.80000000000007 L375.19,260.6 Z" fill="#2b48ca" stroke="#2233aa" stroke-width="0.3"/>
<rect x="375.19" y="260.6" width="6.49" height="5.5" fill="#fbfbfb" stroke="#a0a0a0" stroke-width="0.45"/>
<path d="M375.19,260.6 L376.79,258.80000000000007 L383.28,258.80000000000007 L381.68,260.6 Z" fill="#d5d5d5" stroke="#a0a0a0" stroke-width="0.3"/>
<rect x="381.68" y="260.6" width="6.49" height="5.5" fill="#6cc2b8" stroke="#4a9a90" stroke-width="0.45"/>
<path d="M381.68,260.6 L383.28,258.80000000000007 L389.78,258.80000000000007 L388.18,260.6 Z" fill="#5ba49c" stroke="#4a9a90" stroke-width="0.3"/>
<rect x="388.18" y="260.6" width="6.49" height="5.5" fill="#a8cdf4" stroke="#7c9cc4" stroke-width="0.45"/>
<path d="M388.18,260.6 L389.78,258.80000000000007 L396.27,258.80000000000007 L394.67,260.6 Z" fill="#8eaecf" stroke="#7c9cc4" stroke-width="0.3"/>
<rect x="394.67" y="260.6" width="6.49" height="5.5" fill="#fbfbfb" stroke="#a0a0a0" stroke-width="0.45"/>
<path d="M394.67,260.6 L396.27,258.80000000000007 L402.76,258.80000000000007 L401.16,260.6 Z" fill="#d5d5d5" stroke="#a0a0a0" stroke-width="0.3"/>
<rect x="401.16" y="260.6" width="6.49" height="5.5" fill="#fbfbfb" stroke="#a0a0a0" stroke-width="0.45"/>
<path d="M401.16,260.6 L402.76,258.80000000000007 L409.25,258.80000000000007 L407.65,260.6 Z" fill="#d5d5d5" stroke="#a0a0a0" stroke-width="0.3"/>
<rect x="407.65" y="260.6" width="6.49" height="5.5" fill="#a855f5" stroke="#7a3ab0" stroke-width="0.45"/>
<path d="M407.65,260.6 L409.25,258.80000000000007 L415.74,258.80000000000007 L414.14,260.6 Z" fill="#8e48d0" stroke="#7a3ab0" stroke-width="0.3"/>
<rect x="414.14" y="260.6" width="6.49" height="5.5" fill="#a8cdf4" stroke="#7c9cc4" stroke-width="0.45"/>
<path d="M414.14,260.6 L415.74,258.80000000000007 L422.24,258.80000000000007 L420.64,260.6 Z" fill="#8eaecf" stroke="#7c9cc4" stroke-width="0.3"/>
<rect x="420.64" y="260.6" width="6.49" height="5.5" fill="#fbfbfb" stroke="#a0a0a0" stroke-width="0.45"/>
<path d="M420.64,260.6 L422.24,258.80000000000007 L428.73,258.80000000000007 L427.13,260.6 Z" fill="#d5d5d5" stroke="#a0a0a0" stroke-width="0.3"/>
<rect x="427.13" y="260.6" width="6.49" height="5.5" fill="#fbfbfb" stroke="#a0a0a0" stroke-width="0.45"/>
<path d="M427.13,260.6 L428.73,258.80000000000007 L435.22,258.80000000000007 L433.62,260.6 Z" fill="#d5d5d5" stroke="#a0a0a0" stroke-width="0.3"/>
<rect x="433.62" y="260.6" width="6.49" height="5.5" fill="#a8cdf4" stroke="#7c9cc4" stroke-width="0.45"/>
<path d="M433.62,260.6 L435.22,258.80000000000007 L441.71,258.80000000000007 L440.11,260.6 Z" fill="#8eaecf" stroke="#7c9cc4" stroke-width="0.3"/>
<rect x="440.11" y="260.6" width="6.49" height="5.5" fill="#fbfbfb" stroke="#a0a0a0" stroke-width="0.45"/>
<path d="M440.11,260.6 L441.71,258.80000000000007 L448.20,258.80000000000007 L446.60,260.6 Z" fill="#d5d5d5" stroke="#a0a0a0" stroke-width="0.3"/>
<rect x="446.60" y="260.6" width="6.49" height="5.5" fill="#fbfbfb" stroke="#a0a0a0" stroke-width="0.45"/>
<path d="M446.60,260.6 L448.20,258.80000000000007 L454.70,258.80000000000007 L453.10,260.6 Z" fill="#d5d5d5" stroke="#a0a0a0" stroke-width="0.3"/>
<rect x="453.10" y="260.6" width="6.49" height="5.5" fill="#fbfbfb" stroke="#a0a0a0" stroke-width="0.45"/>
<path d="M453.10,260.6 L454.70,258.80000000000007 L461.19,258.80000000000007 L459.59,260.6 Z" fill="#d5d5d5" stroke="#a0a0a0" stroke-width="0.3"/>
<rect x="459.59" y="260.6" width="6.49" height="5.5" fill="#fbfbfb" stroke="#a0a0a0" stroke-width="0.45"/>
<path d="M459.59,260.6 L461.19,258.80000000000007 L467.68,258.80000000000007 L466.08,260.6 Z" fill="#d5d5d5" stroke="#a0a0a0" stroke-width="0.3"/>
<rect x="466.08" y="260.6" width="6.49" height="5.5" fill="#f9e6ea" stroke="#c9a0b0" stroke-width="0.45"/>
<path d="M466.08,260.6 L467.68,258.80000000000007 L474.17,258.80000000000007 L472.57,260.6 Z" fill="#d3c3c6" stroke="#c9a0b0" stroke-width="0.3"/>
<rect x="472.57" y="260.6" width="6.49" height="5.5" fill="#6cc2b8" stroke="#4a9a90" stroke-width="0.45"/>
<path d="M472.57,260.6 L474.17,258.80000000000007 L480.66,258.80000000000007 L479.06,260.6 Z" fill="#5ba49c" stroke="#4a9a90" stroke-width="0.3"/>
<rect x="479.06" y="260.6" width="6.49" height="5.5" fill="#a8cdf4" stroke="#7c9cc4" stroke-width="0.45"/>
<path d="M479.06,260.6 L480.66,258.80000000000007 L487.16,258.80000000000007 L485.56,260.6 Z" fill="#8eaecf" stroke="#7c9cc4" stroke-width="0.3"/>
<rect x="485.56" y="260.6" width="6.49" height="5.5" fill="#a8cdf4" stroke="#7c9cc4" stroke-width="0.45"/>
<path d="M485.56,260.6 L487.16,258.80000000000007 L493.65,258.80000000000007 L492.05,260.6 Z" fill="#8eaecf" stroke="#7c9cc4" stroke-width="0.3"/>
<rect x="492.05" y="260.6" width="6.49" height="5.5" fill="#a8cdf4" stroke="#7c9cc4" stroke-width="0.45"/>
<path d="M492.05,260.6 L493.65,258.80000000000007 L500.14,258.80000000000007 L498.54,260.6 Z" fill="#8eaecf" stroke="#7c9cc4" stroke-width="0.3"/>
<rect x="498.54" y="260.6" width="6.49" height="5.5" fill="#3355ee" stroke="#2233aa" stroke-width="0.45"/>
<path d="M498.54,260.6 L500.14,258.80000000000007 L506.63,258.80000000000007 L505.03,260.6 Z" fill="#2b48ca" stroke="#2233aa" stroke-width="0.3"/>
<rect x="505.03" y="260.6" width="6.49" height="5.5" fill="#3355ee" stroke="#2233aa" stroke-width="0.45"/>
<path d="M505.03,260.6 L506.63,258.80000000000007 L513.12,258.80000000000007 L511.52,260.6 Z" fill="#2b48ca" stroke="#2233aa" stroke-width="0.3"/>
<path d="M511.52,260.6 L513.12,258.80000000000007 L513.12,264.30000000000007 L511.52,266.1 Z" fill="#2233bb" stroke="#223" stroke-width="0.3"/>
<rect x="5.2" y="237.6" width="4.8" height="3.4" fill="#fafafa" stroke="#444" stroke-width="0.5"/>
<text x="10.35" y="240.9" font-size="4.3" font-weight="bold" text-anchor="start" fill="#222" textLength="17.4" lengthAdjust="spacingAndGlyphs" stroke="#222" stroke-width="0.16" >CMML-1</text>
<rect x="5.2" y="243.7" width="4.8" height="3.4" fill="#c4c4c4" stroke="#444" stroke-width="0.5"/>
<text x="10.35" y="247.0" font-size="4.3" font-weight="bold" text-anchor="start" fill="#222" textLength="17.0" lengthAdjust="spacingAndGlyphs" stroke="#222" stroke-width="0.16" >CMML-2</text>
<rect x="5.2" y="249.8" width="4.8" height="3.4" fill="#7a7a7a" stroke="#444" stroke-width="0.5"/>
<text x="10.35" y="253.10000000000002" font-size="4.3" font-weight="bold" text-anchor="start" fill="#222" textLength="12.3" lengthAdjust="spacingAndGlyphs" stroke="#222" stroke-width="0.16" >sAML</text>
<text x="1.65" y="264.1" font-size="4.3" font-weight="bold" text-anchor="start" fill="#222" textLength="29.4" lengthAdjust="spacingAndGlyphs" stroke="#222" stroke-width="0.16" >MC karyotype</text>
<rect x="44.6" y="272" width="4.6" height="3.4" fill="#fbfbfb" stroke="#555" stroke-width="0.45"/>
<text x="50.15" y="275.6" font-size="4.2" font-weight="bold" text-anchor="start" fill="#222" textLength="15.5" lengthAdjust="spacingAndGlyphs" stroke="#222" stroke-width="0.16" >Normal</text>
<rect x="80.3" y="272" width="4.6" height="3.4" fill="#a8cdf4" stroke="#557" stroke-width="0.45"/>
<text x="85.85" y="275.6" font-size="4.2" font-weight="bold" text-anchor="start" fill="#222" textLength="16.4" lengthAdjust="spacingAndGlyphs" stroke="#222" stroke-width="0.16" >1 lesion</text>
<rect x="112.8" y="272" width="4.6" height="3.4" fill="#3355ee" stroke="#223" stroke-width="0.45"/>
<text x="117.95" y="275.6" font-size="4.2" font-weight="bold" text-anchor="start" fill="#222" textLength="19.4" lengthAdjust="spacingAndGlyphs" stroke="#222" stroke-width="0.16" >Complex</text>
<rect x="148.6" y="272" width="4.6" height="3.4" fill="#a855f5" stroke="#535" stroke-width="0.45"/>
<text x="153.75" y="275.6" font-size="4.2" font-weight="bold" text-anchor="start" fill="#222" textLength="19.8" lengthAdjust="spacingAndGlyphs" stroke="#222" stroke-width="0.16" >trisomy 8</text>
<rect x="187.8" y="272" width="4.6" height="3.4" fill="#7676ee" stroke="#335" stroke-width="0.45"/>
<text x="192.65" y="275.6" font-size="4.2" font-weight="bold" text-anchor="start" fill="#222" textLength="10.3" lengthAdjust="spacingAndGlyphs" stroke="#222" stroke-width="0.16" >-X/-Y</text>
<rect x="213.6" y="272" width="4.6" height="3.4" fill="#6cc2b8" stroke="#355" stroke-width="0.45"/>
<text x="217.75" y="275.6" font-size="4.2" font-weight="bold" text-anchor="start" fill="#222" textLength="5.2" lengthAdjust="spacingAndGlyphs" stroke="#222" stroke-width="0.16" >-7</text>
<rect x="232.2" y="272" width="4.6" height="3.4" fill="#f9e6ea" stroke="#a78" stroke-width="0.45"/>
<text x="236.25" y="275.6" font-size="4.2" font-weight="bold" text-anchor="start" fill="#222" textLength="19.0" lengthAdjust="spacingAndGlyphs" stroke="#222" stroke-width="0.16" >Unknown</text>
<rect x="450.2" y="190.5" width="5.4" height="3.6" rx="0.6" fill="#4d8a8e" stroke="#2e5255" stroke-width="0.5"/>
<text x="456.25" y="193.8" font-size="3.9" font-weight="bold" text-anchor="start" fill="#222" font-style="italic" textLength="9.2" lengthAdjust="spacingAndGlyphs" stroke="#222" stroke-width="0.1" >TET2</text>
<rect x="450.2" y="196.5" width="5.4" height="3.6" rx="0.6" fill="#d89ac8" stroke="#815c78" stroke-width="0.5"/>
<text x="456.25" y="199.8" font-size="3.9" font-weight="bold" text-anchor="start" fill="#222" font-style="italic" textLength="12.8" lengthAdjust="spacingAndGlyphs" stroke="#222" stroke-width="0.1" >ASXL1</text>
<rect x="450.2" y="202.2" width="5.4" height="3.6" rx="0.6" fill="#4a0a5a" stroke="#2c0636" stroke-width="0.5"/>
<text x="456.25" y="205.5" font-size="3.9" font-weight="bold" text-anchor="start" fill="#222" font-style="italic" textLength="15.7" lengthAdjust="spacingAndGlyphs" stroke="#222" stroke-width="0.1" >DNMT3A</text>
<rect x="450.2" y="208.0" width="5.4" height="3.6" rx="0.6" fill="#9ab830" stroke="#5c6e1c" stroke-width="0.5"/>
<text x="456.25" y="211.3" font-size="3.9" font-weight="bold" text-anchor="start" fill="#222" font-style="italic" textLength="7.8" lengthAdjust="spacingAndGlyphs" stroke="#222" stroke-width="0.1" >RAS</text>
<rect x="483" y="190.5" width="5.4" height="3.6" rx="0.6" fill="#ece49a" stroke="#8d885c" stroke-width="0.5"/>
<text x="493.75" y="193.8" font-size="3.9" font-weight="bold" text-anchor="start" fill="#222" font-style="italic" textLength="7.0" lengthAdjust="spacingAndGlyphs" stroke="#222" stroke-width="0.1" >CBL</text>
<rect x="483" y="196.5" width="5.4" height="3.6" rx="0.6" fill="#6a78dc" stroke="#3f4884" stroke-width="0.5"/>
<text x="493.75" y="199.8" font-size="3.9" font-weight="bold" text-anchor="start" fill="#222" font-style="italic" textLength="5.5" lengthAdjust="spacingAndGlyphs" stroke="#222" stroke-width="0.1" >UTX</text>
<rect x="483" y="202.2" width="5.4" height="3.6" rx="0.6" fill="#c80818" stroke="#78040e" stroke-width="0.5"/>
<text x="493.75" y="205.5" font-size="3.9" font-weight="bold" text-anchor="start" fill="#222" font-style="italic" textLength="6.3" lengthAdjust="spacingAndGlyphs" stroke="#222" stroke-width="0.1" >EZH2</text>
<rect x="483" y="208.0" width="5.4" height="3.6" rx="0.6" fill="#e8e8dc" stroke="#8b8b84" stroke-width="0.5"/>
<text x="493.75" y="211.3" font-size="3.9" font-weight="bold" text-anchor="start" fill="#222" font-style="italic" textLength="12.1" lengthAdjust="spacingAndGlyphs" stroke="#222" stroke-width="0.1" >IDH1/2</text>
</svg></body></html>
